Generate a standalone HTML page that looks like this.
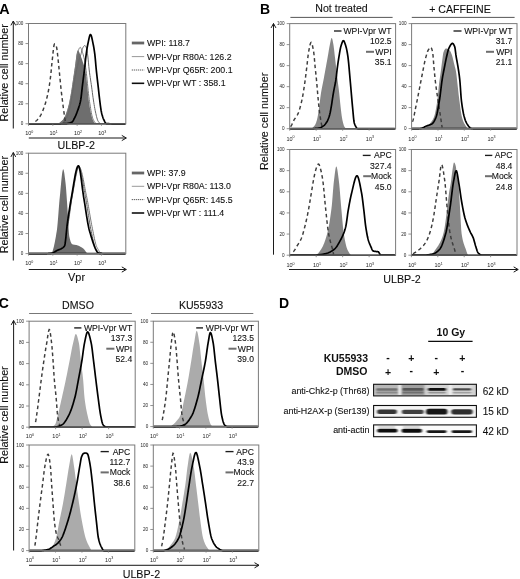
<!DOCTYPE html><html><head><meta charset="utf-8"><title>Figure</title><style>html,body{margin:0;padding:0;background:#fff;overflow:hidden;}svg{display:block;}text{font-family:"Liberation Sans", sans-serif;}</style></head><body>
<svg width="520" height="579" viewBox="0 0 520 579">
<rect x="0" y="0" width="520" height="579" fill="#fff"/>
<defs><filter id="gb" x="0" y="0" width="100%" height="100%" filterUnits="userSpaceOnUse"><feGaussianBlur stdDeviation="0.35"/></filter></defs><g filter="url(#gb)">
<text x="-0.7" y="13.8" font-size="14.4" text-anchor="start" font-weight="bold" fill="#000">A</text>
<path d="M13.3 128.5 V21 M10.9 25.4 L13.3 21 L15.7 25.4" fill="none" stroke="#1a1a1a" stroke-width="1"/>
<path d="M13.3 260.5 V152.5 M10.9 156.9 L13.3 152.5 L15.7 156.9" fill="none" stroke="#1a1a1a" stroke-width="1"/>
<text font-size="10.75" text-anchor="middle" fill="#111" stroke="#111" stroke-width="0.1" transform="translate(7.9 72.8) rotate(-90)">Relative cell number</text>
<text font-size="10.75" text-anchor="middle" fill="#111" stroke="#111" stroke-width="0.1" transform="translate(7.9 204.6) rotate(-90)">Relative cell number</text>
<path d="M58.05 123.6 L58.4 123.5 L58.75 123.31 L59.1 123.05 L59.45 122.75 L59.8 122.45 L60.15 122.16 L60.5 121.89 L60.85 121.61 L61.2 121.33 L61.55 121.03 L61.9 120.73 L62.25 120.4 L62.6 120.06 L62.95 119.69 L63.3 119.29 L63.65 118.85 L64 118.39 L64.35 117.87 L64.7 117.27 L65.05 116.58 L65.4 115.81 L65.75 114.96 L66.1 114.04 L66.45 113.05 L66.8 112 L67.15 110.9 L67.5 109.76 L67.85 108.57 L68.2 107.35 L68.55 106.07 L68.9 104.64 L69.25 103.07 L69.6 101.38 L69.95 99.6 L70.3 97.74 L70.65 95.82 L71 93.86 L71.35 91.84 L71.7 89.66 L72.05 87.36 L72.4 84.98 L72.75 82.57 L73.1 80.18 L73.45 77.82 L73.8 75.47 L74.15 73.11 L74.5 70.7 L74.85 68.24 L75.2 65.7 L75.55 62.79 L75.9 59.54 L76.25 56.44 L76.6 53.96 L76.95 52.44 L77.3 51.23 L77.65 50.4 L78 50.21 L78.35 50.47 L78.7 50.99 L79.05 51.72 L79.4 52.59 L79.75 53.53 L80.1 54.49 L80.45 55.38 L80.8 56.23 L81.15 57.14 L81.5 58.09 L81.85 59.08 L82.2 60.1 L82.55 61.15 L82.9 62.2 L83.25 63.23 L83.6 64.21 L83.95 65.19 L84.3 66.23 L84.65 67.37 L85 68.69 L85.35 70.24 L85.7 72.29 L86.05 74.86 L86.4 77.8 L86.75 80.93 L87.1 84.11 L87.45 87.38 L87.8 91.09 L88.15 94.88 L88.5 98.33 L88.85 101.12 L89.2 103.58 L89.55 105.83 L89.9 107.88 L90.25 109.76 L90.6 111.48 L90.95 113.15 L91.3 114.76 L91.65 116.25 L92 117.57 L92.35 118.67 L92.7 119.52 L93.05 120.28 L93.4 121.02 L93.75 121.7 L94.1 122.31 L94.45 122.83 L94.8 123.23 L95.15 123.49 L95.5 123.6 L95.5 123.8 L58.05 123.8 Z" fill="#6e6e6e"/>
<path d="M60.15 123.58 L60.5 123.47 L60.85 123.27 L61.2 122.98 L61.55 122.63 L61.9 122.21 L62.25 121.73 L62.6 121.21 L62.95 120.66 L63.3 120.07 L63.65 119.47 L64 118.86 L64.35 118.26 L64.7 117.65 L65.05 116.98 L65.4 116.25 L65.75 115.46 L66.1 114.61 L66.45 113.7 L66.8 112.74 L67.15 111.73 L67.5 110.66 L67.85 109.55 L68.2 108.38 L68.55 107.18 L68.9 105.88 L69.25 104.43 L69.6 102.84 L69.95 101.14 L70.3 99.35 L70.65 97.47 L71 95.55 L71.35 93.58 L71.7 91.53 L72.05 89.31 L72.4 86.98 L72.75 84.59 L73.1 82.19 L73.45 79.83 L73.8 77.52 L74.15 75.2 L74.5 72.88 L74.85 70.57 L75.2 68.28 L75.55 66.02 L75.9 63.68 L76.25 61.15 L76.6 58.6 L76.95 56.2 L77.3 54.11 L77.65 52.5 L78 51.42 L78.35 50.44 L78.7 49.53 L79.05 48.74 L79.4 48.08 L79.75 47.61 L80.1 47.34 L80.45 47.35 L80.8 47.79 L81.15 48.58 L81.5 49.56 L81.85 50.59 L82.2 51.55 L82.55 52.56 L82.9 53.65 L83.25 54.84 L83.6 56.13 L83.95 57.53 L84.3 59.06 L84.65 60.76 L85 62.82 L85.35 65.18 L85.7 67.74 L86.05 70.38 L86.4 73.27 L86.75 76.46 L87.1 79.85 L87.45 83.37 L87.8 86.9 L88.15 90.36 L88.5 93.65 L88.85 96.66 L89.2 99.32 L89.55 101.65 L89.9 103.95 L90.25 106.2 L90.6 108.38 L90.95 110.46 L91.3 112.4 L91.65 114.19 L92 115.78 L92.35 117.15 L92.7 118.27 L93.05 119.1 L93.4 119.82 L93.75 120.5 L94.1 121.14 L94.45 121.73 L94.8 122.26 L95.15 122.71 L95.5 123.08 L95.85 123.36 L96.2 123.54 L96.55 123.6" fill="none" stroke="#7a7a7a" stroke-width="1"/>
<path d="M62.25 123.56 L62.6 123.42 L62.95 123.2 L63.3 122.9 L63.65 122.53 L64 122.1 L64.35 121.63 L64.7 121.11 L65.05 120.56 L65.4 120 L65.75 119.42 L66.1 118.83 L66.45 118.17 L66.8 117.41 L67.15 116.57 L67.5 115.64 L67.85 114.62 L68.2 113.54 L68.55 112.39 L68.9 111.17 L69.25 109.9 L69.6 108.57 L69.95 107.2 L70.3 105.7 L70.65 103.95 L71 102.02 L71.35 99.96 L71.7 97.83 L72.05 95.68 L72.4 93.58 L72.75 91.53 L73.1 89.39 L73.45 87.21 L73.8 85.03 L74.15 82.87 L74.5 80.78 L74.85 78.8 L75.2 76.95 L75.55 75.15 L75.9 73.39 L76.25 71.67 L76.6 70.01 L76.95 68.41 L77.3 66.87 L77.65 65.4 L78 64 L78.35 62.68 L78.7 61.43 L79.05 60.24 L79.4 59.1 L79.75 57.98 L80.1 56.88 L80.45 55.77 L80.8 54.65 L81.15 53.49 L81.5 52.21 L81.85 50.89 L82.2 49.63 L82.55 48.52 L82.9 47.68 L83.25 47.09 L83.6 46.54 L83.95 46.07 L84.3 45.71 L84.65 45.52 L85 45.54 L85.35 45.82 L85.7 46.31 L86.05 46.97 L86.4 47.76 L86.75 48.88 L87.1 50.83 L87.45 53.32 L87.8 56 L88.15 59.14 L88.5 62.87 L88.85 66.67 L89.2 70 L89.55 72.77 L89.9 75.3 L90.25 77.68 L90.6 79.96 L90.95 82.25 L91.3 84.6 L91.65 87.09 L92 89.72 L92.35 92.4 L92.7 95.07 L93.05 97.62 L93.4 100 L93.75 102.24 L94.1 104.43 L94.45 106.53 L94.8 108.51 L95.15 110.34 L95.5 112 L95.85 113.56 L96.2 115.11 L96.55 116.59 L96.9 117.95 L97.25 119.16 L97.6 120.17 L97.95 120.92 L98.3 121.48 L98.65 122 L99 122.48 L99.35 122.9 L99.7 123.23 L100.05 123.47 L100.4 123.59" fill="none" stroke="#666" stroke-width="1"/>
<path d="M35.3 121.45 L35.65 121.25 L36 121.01 L36.35 120.74 L36.7 120.44 L37.05 120.1 L37.4 119.73 L37.75 119.33 L38.1 118.91 L38.45 118.47 L38.8 118.01 L39.15 117.53 L39.5 117.03 L39.85 116.52 L40.2 116 L40.55 115.45 L40.9 114.84 L41.25 114.18 L41.6 113.47 L41.95 112.72 L42.3 111.92 L42.65 111.08 L43 110.21 L43.35 109.3 L43.7 108.35 L44.05 107.38 L44.4 106.38 L44.75 105.35 L45.1 104.28 L45.45 103.16 L45.8 101.97 L46.15 100.73 L46.5 99.42 L46.85 98.04 L47.2 96.58 L47.55 95.05 L47.9 93.45 L48.25 91.76 L48.6 89.98 L48.95 88.02 L49.3 85.85 L49.65 83.5 L50 80.98 L50.35 78.31 L50.7 75.5 L51.05 72.27 L51.4 68.59 L51.75 64.83 L52.1 61.38 L52.45 58.28 L52.8 54.95 L53.15 51.61 L53.5 48.57 L53.85 46.09 L54.2 44.48 L54.55 44 L54.9 44.15 L55.25 44.5 L55.6 45.02 L55.95 45.7 L56.3 46.5 L56.65 47.51 L57 49.54 L57.35 52.41 L57.7 55.74 L58.05 59.13 L58.4 62.33 L58.75 65.75 L59.1 69.34 L59.45 72.96 L59.8 76.51 L60.15 80.09 L60.5 83.7 L60.85 87.2 L61.2 90.5 L61.55 93.55 L61.9 96.44 L62.25 99.23 L62.6 102 L62.95 104.76 L63.3 107.48 L63.65 110.11 L64 112.63 L64.35 115.07 L64.7 117.37 L65.05 119.77 L65.4 121.81" fill="none" stroke="#3c3c3c" stroke-width="1.45" stroke-dasharray="3.6,2.9"/>
<path d="M29 123.8 L29.35 123.8 L29.7 123.8 L30.05 123.8 L30.4 123.8 L30.75 123.8 L31.1 123.8 L31.45 123.8 L31.8 123.8 L32.15 123.8 L32.5 123.8 L32.85 123.8 L33.2 123.8 L33.55 123.8 L33.9 123.8 L34.25 123.8 L34.6 123.8 L34.95 123.8 L35.3 123.8 L35.65 123.8 L36 123.8 L36.35 123.8 L36.7 123.8 L37.05 123.8 L37.4 123.8 L37.75 123.8 L38.1 123.8 L38.45 123.8 L38.8 123.8 L39.15 123.8 L39.5 123.8 L39.85 123.8 L40.2 123.8 L40.55 123.8 L40.9 123.8 L41.25 123.8 L41.6 123.8 L41.95 123.8 L42.3 123.8 L42.65 123.8 L43 123.8 L43.35 123.8 L43.7 123.8 L44.05 123.8 L44.4 123.8 L44.75 123.8 L45.1 123.8 L45.45 123.8 L45.8 123.8 L46.15 123.8 L46.5 123.8 L46.85 123.8 L47.2 123.8 L47.55 123.8 L47.9 123.8 L48.25 123.8 L48.6 123.8 L48.95 123.8 L49.3 123.8 L49.65 123.8 L50 123.8 L50.35 123.8 L50.7 123.8 L51.05 123.8 L51.4 123.8 L51.75 123.8 L52.1 123.8 L52.45 123.8 L52.8 123.8 L53.15 123.8 L53.5 123.8 L53.85 123.8 L54.2 123.8 L54.55 123.8 L54.9 123.8 L55.25 123.8 L55.6 123.8 L55.95 123.8 L56.3 123.8 L56.65 123.8 L57 123.8 L57.35 123.8 L57.7 123.8 L58.05 123.8 L58.4 123.8 L58.75 123.8 L59.1 123.8 L59.45 123.79 L59.8 123.79 L60.15 123.78 L60.5 123.78 L60.85 123.77 L61.2 123.77 L61.55 123.76 L61.9 123.75 L62.25 123.74 L62.6 123.73 L62.95 123.72 L63.3 123.71 L63.65 123.7 L64 123.68 L64.35 123.67 L64.7 123.66 L65.05 123.64 L65.4 123.63 L65.75 123.61 L66.1 123.59 L66.45 123.57 L66.8 123.54 L67.15 123.5 L67.5 123.46 L67.85 123.4 L68.2 123.34 L68.55 123.27 L68.9 123.19 L69.25 123.11 L69.6 123.01 L69.95 122.91 L70.3 122.79 L70.65 122.67 L71 122.54 L71.35 122.4 L71.7 122.24 L72.05 122.05 L72.4 121.72 L72.75 121.27 L73.1 120.73 L73.45 120.11 L73.8 119.43 L74.15 118.73 L74.5 118.01 L74.85 117.3 L75.2 116.6 L75.55 115.87 L75.9 115.09 L76.25 114.27 L76.6 113.4 L76.95 112.5 L77.3 111.56 L77.65 110.58 L78 109.61 L78.35 108.64 L78.7 107.63 L79.05 106.56 L79.4 105.41 L79.75 104.15 L80.1 102.76 L80.45 101.22 L80.8 99.46 L81.15 97.06 L81.5 94.1 L81.85 90.85 L82.2 87.59 L82.55 84.6 L82.9 81.82 L83.25 79.1 L83.6 76.39 L83.95 73.65 L84.3 70.83 L84.65 67.84 L85 64.65 L85.35 61.38 L85.7 58.22 L86.05 55.32 L86.4 52.78 L86.75 50.38 L87.1 48.14 L87.45 46.09 L87.8 44.27 L88.15 42.62 L88.5 40.91 L88.85 39.22 L89.2 37.66 L89.55 36.3 L89.9 35.27 L90.25 34.64 L90.6 34.52 L90.95 34.94 L91.3 35.82 L91.65 37.04 L92 38.53 L92.35 40.18 L92.7 41.89 L93.05 43.57 L93.4 45.25 L93.75 47.14 L94.1 49.26 L94.45 51.6 L94.8 54.2 L95.15 57.38 L95.5 61.18 L95.85 65.2 L96.2 69.01 L96.55 72.35 L96.9 75.49 L97.25 78.53 L97.6 81.53 L97.95 84.56 L98.3 87.69 L98.65 90.87 L99 94.04 L99.35 97.11 L99.7 100 L100.05 102.82 L100.4 105.62 L100.75 108.22 L101.1 110.46 L101.45 112.19 L101.8 113.7 L102.15 115.07 L102.5 116.29 L102.85 117.36 L103.2 118.3 L103.55 119.11 L103.9 119.87 L104.25 120.62 L104.6 121.34 L104.95 122 L105.3 122.58 L105.65 123.05 L106 123.39 L106.35 123.57 L106.7 123.61 L107.05 123.63 L107.4 123.65 L107.75 123.66 L108.1 123.68 L108.45 123.69 L108.8 123.71 L109.15 123.72 L109.5 123.73 L109.85 123.74 L110.2 123.75 L110.55 123.76 L110.9 123.77 L111.25 123.77 L111.6 123.78 L111.95 123.78 L112.3 123.79 L112.65 123.79 L113 123.79 L113.35 123.8 L113.7 123.8 L114.05 123.8 L114.4 123.8 L114.75 123.8 L115.1 123.8 L115.45 123.8 L115.8 123.8 L116.15 123.8 L116.5 123.8 L116.85 123.8 L117.2 123.8 L117.55 123.8 L117.9 123.8 L118.25 123.8 L118.6 123.8 L118.95 123.8 L119.3 123.8 L119.65 123.8 L120 123.8 L120.35 123.8 L120.7 123.8 L121.05 123.8 L121.4 123.8 L121.75 123.8 L122.1 123.8 L122.45 123.8 L122.8 123.8 L123.15 123.8 L123.5 123.8 L123.85 123.8 L124.2 123.8 L124.55 123.8 L124.9 123.8 L125.25 123.8" fill="none" stroke="#000" stroke-width="1.7" stroke-linejoin="round"/>
<line x1="28.5" y1="123.8" x2="125.8" y2="123.8" stroke="#000" stroke-width="1.6"/>
<line x1="25.5" y1="23.5" x2="28.5" y2="23.5" stroke="#777" stroke-width="0.8"/>
<text x="23.4" y="25.15" font-size="4.6" text-anchor="end" fill="#222">100</text>
<line x1="25.5" y1="43.56" x2="28.5" y2="43.56" stroke="#777" stroke-width="0.8"/>
<text x="23.4" y="45.21" font-size="4.6" text-anchor="end" fill="#222">80</text>
<line x1="25.5" y1="63.62" x2="28.5" y2="63.62" stroke="#777" stroke-width="0.8"/>
<text x="23.4" y="65.27" font-size="4.6" text-anchor="end" fill="#222">60</text>
<line x1="25.5" y1="83.68" x2="28.5" y2="83.68" stroke="#777" stroke-width="0.8"/>
<text x="23.4" y="85.33" font-size="4.6" text-anchor="end" fill="#222">40</text>
<line x1="25.5" y1="103.74" x2="28.5" y2="103.74" stroke="#777" stroke-width="0.8"/>
<text x="23.4" y="105.39" font-size="4.6" text-anchor="end" fill="#222">20</text>
<line x1="25.5" y1="123.8" x2="28.5" y2="123.8" stroke="#777" stroke-width="0.8"/>
<text x="23.4" y="125.45" font-size="4.6" text-anchor="end" fill="#222">0</text>
<line x1="28.5" y1="123.8" x2="28.5" y2="125.8" stroke="#777" stroke-width="0.8"/>
<text x="29.3" y="135.2" font-size="5.5" fill="#222" text-anchor="middle">10<tspan font-size="3.6" dy="-2.4">0</tspan></text>
<line x1="52.83" y1="123.8" x2="52.83" y2="125.8" stroke="#777" stroke-width="0.8"/>
<text x="53.62" y="135.2" font-size="5.5" fill="#222" text-anchor="middle">10<tspan font-size="3.6" dy="-2.4">1</tspan></text>
<line x1="77.15" y1="123.8" x2="77.15" y2="125.8" stroke="#777" stroke-width="0.8"/>
<text x="77.95" y="135.2" font-size="5.5" fill="#222" text-anchor="middle">10<tspan font-size="3.6" dy="-2.4">2</tspan></text>
<line x1="101.47" y1="123.8" x2="101.47" y2="125.8" stroke="#777" stroke-width="0.8"/>
<text x="102.27" y="135.2" font-size="5.5" fill="#222" text-anchor="middle">10<tspan font-size="3.6" dy="-2.4">3</tspan></text>
<rect x="28.5" y="23.5" width="97.3" height="100.3" fill="none" stroke="#7a7a7a" stroke-width="1"/>
<path d="M28.8 138 H126.3 M121.8 135.4 L126.3 138 L121.8 140.6" fill="none" stroke="#1a1a1a" stroke-width="1"/>
<text x="76.3" y="148.8" font-size="10.7" text-anchor="middle" fill="#111" stroke="#111" stroke-width="0.1">ULBP-2</text>
<line x1="131.8" y1="43" x2="144.2" y2="43" stroke="#666" stroke-width="2.8"/>
<text x="147" y="46.1" font-size="8.8" text-anchor="start" fill="#111" stroke="#111" stroke-width="0.1">WPI: 118.7</text>
<line x1="131.8" y1="56.6" x2="144.2" y2="56.6" stroke="#999" stroke-width="1"/>
<text x="147" y="59.7" font-size="8.8" text-anchor="start" fill="#111" stroke="#111" stroke-width="0.1">WPI-Vpr R80A: 126.2</text>
<line x1="131.8" y1="70" x2="144.2" y2="70" stroke="#333" stroke-width="1" stroke-dasharray="1,1"/>
<text x="147" y="73.1" font-size="8.8" text-anchor="start" fill="#111" stroke="#111" stroke-width="0.1">WPI-Vpr Q65R: 200.1</text>
<line x1="131.8" y1="83.3" x2="144.2" y2="83.3" stroke="#111" stroke-width="1.6"/>
<text x="147" y="86.4" font-size="8.8" text-anchor="start" fill="#111" stroke="#111" stroke-width="0.1">WPI-Vpr WT : 358.1</text>
<path d="M50 253.37 L50.35 253.35 L50.7 253.32 L51.05 253.29 L51.4 253.12 L51.75 252.74 L52.1 252.16 L52.45 251.38 L52.8 250.43 L53.15 249.31 L53.5 248.05 L53.85 246.63 L54.2 245.1 L54.55 243.44 L54.9 241.68 L55.25 239.82 L55.6 237.89 L55.95 235.88 L56.3 233.82 L56.65 231.71 L57 229.42 L57.35 226.31 L57.7 222.51 L58.05 218.23 L58.4 213.69 L58.75 209.09 L59.1 204.64 L59.45 200.57 L59.8 197.03 L60.15 193.42 L60.5 189.62 L60.85 185.75 L61.2 181.98 L61.55 178.43 L61.9 175.26 L62.25 172.61 L62.6 170.63 L62.95 169.46 L63.3 169.24 L63.65 169.97 L64 171.47 L64.35 173.59 L64.7 176.14 L65.05 178.96 L65.4 181.87 L65.75 185.03 L66.1 189.09 L66.45 193.81 L66.8 198.9 L67.15 204.09 L67.5 209.17 L67.85 215.09 L68.2 221.57 L68.55 227.8 L68.9 232.96 L69.25 236.23 L69.6 237.86 L69.95 239.3 L70.3 240.56 L70.65 241.64 L71 242.55 L71.35 243.26 L71.7 243.79 L72.05 244.12 L72.4 244.28 L72.75 244.4 L73.1 244.5 L73.45 244.58 L73.8 244.65 L74.15 244.71 L74.5 244.76 L74.85 244.8 L75.2 244.85 L75.55 244.9 L75.9 244.95 L76.25 245.02 L76.6 245.09 L76.95 245.19 L77.3 245.29 L77.65 245.41 L78 245.54 L78.35 245.68 L78.7 245.83 L79.05 245.99 L79.4 246.16 L79.75 246.34 L80.1 246.53 L80.45 246.72 L80.8 246.93 L81.15 247.14 L81.5 247.36 L81.85 247.59 L82.2 247.83 L82.55 248.07 L82.9 248.32 L83.25 248.58 L83.6 248.85 L83.95 249.13 L84.3 249.49 L84.65 249.93 L85 250.43 L85.35 250.95 L85.7 251.48 L86.05 251.98 L86.4 252.44 L86.75 252.82 L87.1 253.11 L87.45 253.27 L87.8 253.32 L88.15 253.34 L88.5 253.37 L88.5 253.6 L50 253.6 Z" fill="#6e6e6e"/>
<path d="M50 253.36 L50.35 253.34 L50.7 253.32 L51.05 253.3 L51.4 253.27 L51.75 253.23 L52.1 253.19 L52.45 253.14 L52.8 253.08 L53.15 253.01 L53.5 252.94 L53.85 252.85 L54.2 252.76 L54.55 252.65 L54.9 252.54 L55.25 252.42 L55.6 252.29 L55.95 252.15 L56.3 251.99 L56.65 251.83 L57 251.66 L57.35 251.47 L57.7 251.28 L58.05 251.07 L58.4 250.85 L58.75 250.62 L59.1 250.38 L59.45 250.13 L59.8 249.86 L60.15 249.58 L60.5 249.29 L60.85 248.99 L61.2 248.67 L61.55 248.34 L61.9 248 L62.25 247.64 L62.6 247.27 L62.95 246.88 L63.3 246.48 L63.65 246.07 L64 245.64 L64.35 245.19 L64.7 244.65 L65.05 243.65 L65.4 242.21 L65.75 240.41 L66.1 238.31 L66.45 236 L66.8 233.53 L67.15 230.99 L67.5 228.45 L67.85 225.97 L68.2 223.63 L68.55 221.41 L68.9 219.06 L69.25 216.62 L69.6 214.12 L69.95 211.58 L70.3 209.03 L70.65 206.51 L71 204.06 L71.35 201.7 L71.7 199.46 L72.05 197.37 L72.4 195.47 L72.75 193.57 L73.1 191.61 L73.45 189.63 L73.8 187.62 L74.15 185.62 L74.5 183.64 L74.85 181.68 L75.2 179.78 L75.55 177.95 L75.9 176.2 L76.25 174.55 L76.6 173.02 L76.95 171.62 L77.3 170.38 L77.65 169.3 L78 168.41 L78.35 167.73 L78.7 167.26 L79.05 167.02 L79.4 167.04 L79.75 167.29 L80.1 167.76 L80.45 168.44 L80.8 169.3 L81.15 170.33 L81.5 171.52 L81.85 172.84 L82.2 174.29 L82.55 175.85 L82.9 177.5 L83.25 179.22 L83.6 181.01 L83.95 182.84 L84.3 184.69 L84.65 186.56 L85 188.43 L85.35 190.27 L85.7 192.08 L86.05 193.84 L86.4 195.53 L86.75 197.19 L87.1 198.93 L87.45 200.76 L87.8 202.66 L88.15 204.62 L88.5 206.63 L88.85 208.67 L89.2 210.74 L89.55 212.81 L89.9 214.88 L90.25 216.93 L90.6 218.96 L90.95 220.95 L91.3 222.88 L91.65 224.75 L92 226.54 L92.35 228.24 L92.7 229.94 L93.05 231.69 L93.4 233.45 L93.75 235.21 L94.1 236.95 L94.45 238.63 L94.8 240.25 L95.15 241.77 L95.5 243.18 L95.85 244.44 L96.2 245.55 L96.55 246.47 L96.9 247.19 L97.25 247.85 L97.6 248.49 L97.95 249.1 L98.3 249.7 L98.65 250.26 L99 250.78 L99.35 251.27 L99.7 251.72 L100.05 252.12 L100.4 252.47 L100.75 252.76 L101.1 253 L101.45 253.17 L101.8 253.27 L102.15 253.31 L102.5 253.34 L102.85 253.36" fill="none" stroke="#7a7a7a" stroke-width="1"/>
<path d="M50 253.36 L50.35 253.34 L50.7 253.32 L51.05 253.3 L51.4 253.27 L51.75 253.23 L52.1 253.19 L52.45 253.14 L52.8 253.09 L53.15 253.02 L53.5 252.95 L53.85 252.86 L54.2 252.77 L54.55 252.67 L54.9 252.56 L55.25 252.44 L55.6 252.31 L55.95 252.17 L56.3 252.03 L56.65 251.87 L57 251.7 L57.35 251.51 L57.7 251.32 L58.05 251.12 L58.4 250.9 L58.75 250.67 L59.1 250.43 L59.45 250.18 L59.8 249.91 L60.15 249.64 L60.5 249.34 L60.85 249.04 L61.2 248.72 L61.55 248.39 L61.9 248.04 L62.25 247.68 L62.6 247.3 L62.95 246.91 L63.3 246.51 L63.65 246.09 L64 245.65 L64.35 245.2 L64.7 244.62 L65.05 243.48 L65.4 241.82 L65.75 239.73 L66.1 237.32 L66.45 234.69 L66.8 231.93 L67.15 229.17 L67.5 226.48 L67.85 223.99 L68.2 221.71 L68.55 219.4 L68.9 217.04 L69.25 214.64 L69.6 212.24 L69.95 209.84 L70.3 207.47 L70.65 205.15 L71 202.9 L71.35 200.73 L71.7 198.67 L72.05 196.73 L72.4 194.78 L72.75 192.77 L73.1 190.7 L73.45 188.59 L73.8 186.47 L74.15 184.36 L74.5 182.27 L74.85 180.23 L75.2 178.26 L75.55 176.37 L75.9 174.58 L76.25 172.93 L76.6 171.41 L76.95 170.07 L77.3 168.91 L77.65 167.95 L78 167.22 L78.35 166.73 L78.7 166.51 L79.05 166.58 L79.4 166.95 L79.75 167.59 L80.1 168.49 L80.45 169.62 L80.8 170.96 L81.15 172.48 L81.5 174.15 L81.85 175.96 L82.2 177.89 L82.55 179.89 L82.9 181.97 L83.25 184.08 L83.6 186.21 L83.95 188.33 L84.3 190.42 L84.65 192.45 L85 194.41 L85.35 196.26 L85.7 198.14 L86.05 200.13 L86.4 202.2 L86.75 204.34 L87.1 206.54 L87.45 208.77 L87.8 211.03 L88.15 213.3 L88.5 215.55 L88.85 217.79 L89.2 219.98 L89.55 222.11 L89.9 224.17 L90.25 226.14 L90.6 228.01 L90.95 229.76 L91.3 231.44 L91.65 233.14 L92 234.85 L92.35 236.55 L92.7 238.22 L93.05 239.83 L93.4 241.37 L93.75 242.82 L94.1 244.16 L94.45 245.36 L94.8 246.42 L95.15 247.31 L95.5 248 L95.85 248.59 L96.2 249.15 L96.55 249.7 L96.9 250.22 L97.25 250.71 L97.6 251.18 L97.95 251.6 L98.3 251.99 L98.65 252.33 L99 252.63 L99.35 252.88 L99.7 253.07 L100.05 253.21 L100.4 253.29 L100.75 253.32 L101.1 253.34 L101.45 253.37" fill="none" stroke="#666" stroke-width="1"/>
<path d="M29 253.6 L29.35 253.6 L29.7 253.6 L30.05 253.6 L30.4 253.6 L30.75 253.6 L31.1 253.6 L31.45 253.6 L31.8 253.6 L32.15 253.6 L32.5 253.6 L32.85 253.6 L33.2 253.6 L33.55 253.6 L33.9 253.6 L34.25 253.6 L34.6 253.6 L34.95 253.6 L35.3 253.6 L35.65 253.6 L36 253.6 L36.35 253.6 L36.7 253.6 L37.05 253.6 L37.4 253.6 L37.75 253.6 L38.1 253.6 L38.45 253.6 L38.8 253.6 L39.15 253.6 L39.5 253.6 L39.85 253.6 L40.2 253.6 L40.55 253.6 L40.9 253.6 L41.25 253.6 L41.6 253.6 L41.95 253.6 L42.3 253.6 L42.65 253.6 L43 253.6 L43.35 253.6 L43.7 253.6 L44.05 253.59 L44.4 253.59 L44.75 253.58 L45.1 253.58 L45.45 253.57 L45.8 253.56 L46.15 253.55 L46.5 253.54 L46.85 253.53 L47.2 253.51 L47.55 253.5 L47.9 253.48 L48.25 253.47 L48.6 253.45 L48.95 253.43 L49.3 253.41 L49.65 253.39 L50 253.37 L50.35 253.35 L50.7 253.32 L51.05 253.3 L51.4 253.25 L51.75 253.18 L52.1 253.09 L52.45 252.97 L52.8 252.83 L53.15 252.67 L53.5 252.5 L53.85 252.32 L54.2 252.13 L54.55 251.92 L54.9 251.72 L55.25 251.51 L55.6 251.3 L55.95 251.09 L56.3 250.89 L56.65 250.69 L57 250.5 L57.35 250.33 L57.7 250.16 L58.05 250.02 L58.4 249.88 L58.75 249.74 L59.1 249.61 L59.45 249.48 L59.8 249.35 L60.15 249.21 L60.5 249.07 L60.85 248.91 L61.2 248.74 L61.55 248.56 L61.9 248.36 L62.25 248.13 L62.6 247.89 L62.95 247.61 L63.3 247.31 L63.65 246.97 L64 246.6 L64.35 246.19 L64.7 245.56 L65.05 243.97 L65.4 241.56 L65.75 238.53 L66.1 235.13 L66.45 231.58 L66.8 228.11 L67.15 224.95 L67.5 222.29 L67.85 219.82 L68.2 217.38 L68.55 214.98 L68.9 212.62 L69.25 210.31 L69.6 208.05 L69.95 205.85 L70.3 203.72 L70.65 201.65 L71 199.65 L71.35 197.73 L71.7 195.78 L72.05 193.76 L72.4 191.68 L72.75 189.56 L73.1 187.42 L73.45 185.29 L73.8 183.17 L74.15 181.08 L74.5 179.06 L74.85 177.11 L75.2 175.25 L75.55 173.5 L75.9 171.88 L76.25 170.42 L76.6 169.12 L76.95 168.01 L77.3 167.1 L77.65 166.42 L78 165.98 L78.35 165.8 L78.7 165.99 L79.05 166.68 L79.4 167.82 L79.75 169.35 L80.1 171.22 L80.45 173.37 L80.8 175.76 L81.15 178.32 L81.5 181.01 L81.85 183.77 L82.2 186.55 L82.55 189.3 L82.9 191.95 L83.25 194.47 L83.6 196.78 L83.95 198.89 L84.3 201.01 L84.65 203.21 L85 205.45 L85.35 207.72 L85.7 210 L86.05 212.28 L86.4 214.54 L86.75 216.76 L87.1 218.92 L87.45 221 L87.8 223 L88.15 224.88 L88.5 226.64 L88.85 228.25 L89.2 229.7 L89.55 230.97 L89.9 232.17 L90.25 233.37 L90.6 234.56 L90.95 235.75 L91.3 236.92 L91.65 238.07 L92 239.21 L92.35 240.32 L92.7 241.41 L93.05 242.47 L93.4 243.51 L93.75 244.5 L94.1 245.46 L94.45 246.38 L94.8 247.26 L95.15 248.09 L95.5 248.87 L95.85 249.6 L96.2 250.27 L96.55 250.89 L96.9 251.44 L97.25 251.92 L97.6 252.34 L97.95 252.69 L98.3 252.96 L98.65 253.16 L99 253.27 L99.35 253.31 L99.7 253.33 L100.05 253.36 L100.4 253.38 L100.75 253.4 L101.1 253.42 L101.45 253.44 L101.8 253.46 L102.15 253.48 L102.5 253.49 L102.85 253.51 L103.2 253.52 L103.55 253.53 L103.9 253.55 L104.25 253.56 L104.6 253.57 L104.95 253.57 L105.3 253.58 L105.65 253.59 L106 253.59 L106.35 253.6 L106.7 253.6 L107.05 253.6 L107.4 253.6 L107.75 253.6 L108.1 253.6 L108.45 253.6 L108.8 253.6 L109.15 253.6 L109.5 253.6 L109.85 253.6 L110.2 253.6 L110.55 253.6 L110.9 253.6 L111.25 253.6 L111.6 253.6 L111.95 253.6 L112.3 253.6 L112.65 253.6 L113 253.6 L113.35 253.6 L113.7 253.6 L114.05 253.6 L114.4 253.6 L114.75 253.6 L115.1 253.6 L115.45 253.6 L115.8 253.6 L116.15 253.6 L116.5 253.6 L116.85 253.6 L117.2 253.6 L117.55 253.6 L117.9 253.6 L118.25 253.6 L118.6 253.6 L118.95 253.6 L119.3 253.6 L119.65 253.6 L120 253.6 L120.35 253.6 L120.7 253.6 L121.05 253.6 L121.4 253.6 L121.75 253.6 L122.1 253.6 L122.45 253.6 L122.8 253.6 L123.15 253.6 L123.5 253.6 L123.85 253.6 L124.2 253.6 L124.55 253.6 L124.9 253.6 L125.25 253.6" fill="none" stroke="#000" stroke-width="1.7" stroke-linejoin="round"/>
<line x1="28.5" y1="253.6" x2="125.8" y2="253.6" stroke="#000" stroke-width="1.6"/>
<line x1="25.5" y1="153.2" x2="28.5" y2="153.2" stroke="#777" stroke-width="0.8"/>
<text x="23.4" y="154.85" font-size="4.6" text-anchor="end" fill="#222">100</text>
<line x1="25.5" y1="173.28" x2="28.5" y2="173.28" stroke="#777" stroke-width="0.8"/>
<text x="23.4" y="174.93" font-size="4.6" text-anchor="end" fill="#222">80</text>
<line x1="25.5" y1="193.36" x2="28.5" y2="193.36" stroke="#777" stroke-width="0.8"/>
<text x="23.4" y="195.01" font-size="4.6" text-anchor="end" fill="#222">60</text>
<line x1="25.5" y1="213.44" x2="28.5" y2="213.44" stroke="#777" stroke-width="0.8"/>
<text x="23.4" y="215.09" font-size="4.6" text-anchor="end" fill="#222">40</text>
<line x1="25.5" y1="233.52" x2="28.5" y2="233.52" stroke="#777" stroke-width="0.8"/>
<text x="23.4" y="235.17" font-size="4.6" text-anchor="end" fill="#222">20</text>
<line x1="25.5" y1="253.6" x2="28.5" y2="253.6" stroke="#777" stroke-width="0.8"/>
<text x="23.4" y="255.25" font-size="4.6" text-anchor="end" fill="#222">0</text>
<line x1="28.5" y1="253.6" x2="28.5" y2="255.6" stroke="#777" stroke-width="0.8"/>
<text x="29.3" y="265" font-size="5.5" fill="#222" text-anchor="middle">10<tspan font-size="3.6" dy="-2.4">0</tspan></text>
<line x1="52.83" y1="253.6" x2="52.83" y2="255.6" stroke="#777" stroke-width="0.8"/>
<text x="53.62" y="265" font-size="5.5" fill="#222" text-anchor="middle">10<tspan font-size="3.6" dy="-2.4">1</tspan></text>
<line x1="77.15" y1="253.6" x2="77.15" y2="255.6" stroke="#777" stroke-width="0.8"/>
<text x="77.95" y="265" font-size="5.5" fill="#222" text-anchor="middle">10<tspan font-size="3.6" dy="-2.4">2</tspan></text>
<line x1="101.47" y1="253.6" x2="101.47" y2="255.6" stroke="#777" stroke-width="0.8"/>
<text x="102.27" y="265" font-size="5.5" fill="#222" text-anchor="middle">10<tspan font-size="3.6" dy="-2.4">3</tspan></text>
<rect x="28.5" y="153.2" width="97.3" height="100.4" fill="none" stroke="#7a7a7a" stroke-width="1"/>
<path d="M28.8 269.5 H126.3 M121.8 266.9 L126.3 269.5 L121.8 272.1" fill="none" stroke="#1a1a1a" stroke-width="1"/>
<text x="76.6" y="281.4" font-size="10.9" text-anchor="middle" fill="#111" stroke="#111" stroke-width="0.1">Vpr</text>
<line x1="131.8" y1="173" x2="144.2" y2="173" stroke="#666" stroke-width="2.8"/>
<text x="147" y="176.1" font-size="8.8" text-anchor="start" fill="#111" stroke="#111" stroke-width="0.1">WPI: 37.9</text>
<line x1="131.8" y1="186.3" x2="144.2" y2="186.3" stroke="#999" stroke-width="1"/>
<text x="147" y="189.4" font-size="8.8" text-anchor="start" fill="#111" stroke="#111" stroke-width="0.1">WPI-Vpr R80A: 113.0</text>
<line x1="131.8" y1="199.6" x2="144.2" y2="199.6" stroke="#333" stroke-width="1" stroke-dasharray="1,1"/>
<text x="147" y="202.7" font-size="8.8" text-anchor="start" fill="#111" stroke="#111" stroke-width="0.1">WPI-Vpr Q65R: 145.5</text>
<line x1="131.8" y1="213" x2="144.2" y2="213" stroke="#111" stroke-width="1.6"/>
<text x="147" y="216.1" font-size="8.8" text-anchor="start" fill="#111" stroke="#111" stroke-width="0.1">WPI-Vpr WT : 111.4</text>
<text x="260" y="14" font-size="14" text-anchor="start" font-weight="bold" fill="#000">B</text>
<text x="341.5" y="12" font-size="10.6" text-anchor="middle" fill="#111" stroke="#111" stroke-width="0.1">Not treated</text>
<text x="460" y="12.9" font-size="10.6" text-anchor="middle" fill="#111" stroke="#111" stroke-width="0.1">+ CAFFEINE</text>
<line x1="290.4" y1="17.4" x2="392.6" y2="17.4" stroke="#555" stroke-width="1"/>
<line x1="411.8" y1="17.4" x2="514.6" y2="17.4" stroke="#555" stroke-width="1"/>
<path d="M273.5 254.7 V23.5 M271.1 27.9 L273.5 23.5 L275.9 27.9" fill="none" stroke="#1a1a1a" stroke-width="1"/>
<text font-size="10.75" text-anchor="middle" fill="#111" stroke="#111" stroke-width="0.1" transform="translate(267.8 121.3) rotate(-90)">Relative cell number</text>
<path d="M311.2 128.47 L311.55 128.34 L311.9 128.15 L312.25 127.92 L312.6 127.66 L312.95 127.35 L313.3 127.01 L313.65 126.65 L314 126.25 L314.35 125.83 L314.7 125.39 L315.05 124.93 L315.4 124.34 L315.75 123.57 L316.1 122.64 L316.45 121.57 L316.8 120.38 L317.15 119.09 L317.5 117.58 L317.85 115.69 L318.2 113.52 L318.55 111.15 L318.9 108.69 L319.25 106.24 L319.6 103.72 L319.95 100.95 L320.3 98.11 L320.65 95.4 L321 93 L321.35 90.91 L321.7 89 L322.05 87.2 L322.4 85.48 L322.75 83.78 L323.1 82.06 L323.45 80.27 L323.8 78.39 L324.15 76.5 L324.5 74.59 L324.85 72.67 L325.2 70.75 L325.55 68.82 L325.9 66.91 L326.25 64.99 L326.6 63.08 L326.95 61.17 L327.3 59.24 L327.65 57.3 L328 55.33 L328.35 53.25 L328.7 51.11 L329.05 49 L329.4 47.01 L329.75 45.23 L330.1 43.55 L330.45 41.76 L330.8 40.09 L331.15 38.74 L331.5 37.94 L331.85 37.89 L332.2 38.68 L332.55 40.08 L332.9 41.86 L333.25 43.74 L333.6 45.84 L333.95 48.54 L334.3 51.56 L334.65 54.63 L335 57.58 L335.35 60.58 L335.7 63.64 L336.05 66.7 L336.4 69.73 L336.75 72.75 L337.1 75.76 L337.45 78.74 L337.8 81.64 L338.15 84.42 L338.5 87.16 L338.85 89.99 L339.2 93 L339.55 96.38 L339.9 100.02 L340.25 103.58 L340.6 106.77 L340.95 109.83 L341.3 112.79 L341.65 115.51 L342 117.82 L342.35 119.63 L342.7 121.27 L343.05 122.78 L343.4 124.12 L343.75 125.26 L344.1 126.16 L344.45 126.77 L344.8 127.25 L345.15 127.69 L345.5 128.07 L345.85 128.36 L346.2 128.54 L346.2 128.7 L311.2 128.7 Z" fill="#878787"/>
<path d="M290.55 126.64 L290.9 126.26 L291.25 125.74 L291.6 125.1 L291.95 124.38 L292.3 123.61 L292.65 122.81 L293 122.01 L293.35 121.25 L293.7 120.56 L294.05 119.95 L294.4 119.39 L294.75 118.87 L295.1 118.38 L295.45 117.89 L295.8 117.41 L296.15 116.91 L296.5 116.4 L296.85 115.85 L297.2 115.26 L297.55 114.62 L297.9 113.92 L298.25 113.13 L298.6 112.25 L298.95 111.27 L299.3 110.21 L299.65 109.07 L300 107.85 L300.35 106.56 L300.7 105.21 L301.05 103.8 L301.4 102.33 L301.75 100.82 L302.1 99.22 L302.45 97.45 L302.8 95.55 L303.15 93.52 L303.5 91.38 L303.85 89.16 L304.2 86.87 L304.55 84.54 L304.9 82.1 L305.25 79.48 L305.6 76.73 L305.95 73.9 L306.3 71.04 L306.65 68.2 L307 65.27 L307.35 62.1 L307.7 58.9 L308.05 55.87 L308.4 53.22 L308.75 51.14 L309.1 49.29 L309.45 47.47 L309.8 45.78 L310.15 44.33 L310.5 43.22 L310.85 42.55 L311.2 42.42 L311.55 42.8 L311.9 43.61 L312.25 44.78 L312.6 46.24 L312.95 47.93 L313.3 49.76 L313.65 51.69 L314 54.47 L314.35 58.17 L314.7 62.28 L315.05 66.26 L315.4 69.71 L315.75 72.91 L316.1 76.1 L316.45 79.49 L316.8 83.27 L317.15 87.39 L317.5 91.6 L317.85 95.66 L318.2 99.44 L318.55 103.14 L318.9 106.66 L319.25 109.79 L319.6 112.55 L319.95 115.11 L320.3 117.47 L320.65 119.61 L321 121.5 L321.35 123.36 L321.7 125.22 L322.05 126.8 L322.4 127.8" fill="none" stroke="#3c3c3c" stroke-width="1.45" stroke-dasharray="3.6,2.9"/>
<path d="M290.2 128.7 L290.55 128.7 L290.9 128.7 L291.25 128.7 L291.6 128.7 L291.95 128.7 L292.3 128.7 L292.65 128.7 L293 128.7 L293.35 128.7 L293.7 128.7 L294.05 128.7 L294.4 128.7 L294.75 128.7 L295.1 128.7 L295.45 128.7 L295.8 128.7 L296.15 128.7 L296.5 128.7 L296.85 128.7 L297.2 128.7 L297.55 128.7 L297.9 128.7 L298.25 128.7 L298.6 128.7 L298.95 128.7 L299.3 128.7 L299.65 128.7 L300 128.7 L300.35 128.7 L300.7 128.7 L301.05 128.7 L301.4 128.7 L301.75 128.7 L302.1 128.7 L302.45 128.7 L302.8 128.7 L303.15 128.7 L303.5 128.7 L303.85 128.7 L304.2 128.7 L304.55 128.7 L304.9 128.7 L305.25 128.7 L305.6 128.7 L305.95 128.69 L306.3 128.69 L306.65 128.69 L307 128.68 L307.35 128.68 L307.7 128.68 L308.05 128.67 L308.4 128.67 L308.75 128.66 L309.1 128.66 L309.45 128.65 L309.8 128.64 L310.15 128.64 L310.5 128.63 L310.85 128.62 L311.2 128.62 L311.55 128.61 L311.9 128.6 L312.25 128.59 L312.6 128.58 L312.95 128.57 L313.3 128.56 L313.65 128.54 L314 128.53 L314.35 128.51 L314.7 128.49 L315.05 128.46 L315.4 128.44 L315.75 128.41 L316.1 128.38 L316.45 128.35 L316.8 128.31 L317.15 128.28 L317.5 128.24 L317.85 128.2 L318.2 128.15 L318.55 128.11 L318.9 128.06 L319.25 128.01 L319.6 127.94 L319.95 127.85 L320.3 127.74 L320.65 127.6 L321 127.44 L321.35 127.27 L321.7 127.07 L322.05 126.86 L322.4 126.64 L322.75 126.4 L323.1 126.16 L323.45 125.91 L323.8 125.65 L324.15 125.35 L324.5 125.02 L324.85 124.66 L325.2 124.26 L325.55 123.83 L325.9 123.36 L326.25 122.86 L326.6 122.32 L326.95 121.75 L327.3 121.14 L327.65 120.45 L328 119.66 L328.35 118.79 L328.7 117.83 L329.05 116.78 L329.4 115.64 L329.75 114.42 L330.1 112.96 L330.45 111.25 L330.8 109.35 L331.15 107.35 L331.5 105.3 L331.85 103.04 L332.2 100.62 L332.55 98.25 L332.9 96.07 L333.25 93.97 L333.6 91.94 L333.95 89.97 L334.3 88.07 L334.65 86.36 L335 84.73 L335.35 83.04 L335.7 81.11 L336.05 78.74 L336.4 75.81 L336.75 72.65 L337.1 69.58 L337.45 66.89 L337.8 64.36 L338.15 61.93 L338.5 59.61 L338.85 57.4 L339.2 55.31 L339.55 53.21 L339.9 51.15 L340.25 49.22 L340.6 47.53 L340.95 46.16 L341.3 45.05 L341.65 43.96 L342 42.93 L342.35 42.04 L342.7 41.33 L343.05 40.87 L343.4 40.7 L343.75 40.87 L344.1 41.34 L344.45 42.06 L344.8 42.95 L345.15 43.98 L345.5 45.06 L345.85 46.16 L346.2 47.4 L346.55 48.88 L346.9 50.58 L347.25 52.5 L347.6 54.61 L347.95 56.95 L348.3 59.83 L348.65 63.21 L349 66.94 L349.35 70.9 L349.7 74.94 L350.05 78.94 L350.4 82.79 L350.75 86.71 L351.1 90.77 L351.45 94.87 L351.8 98.92 L352.15 102.86 L352.5 106.59 L352.85 110.24 L353.2 114.16 L353.55 117.91 L353.9 120.99 L354.25 122.94 L354.6 123.91 L354.95 124.79 L355.3 125.58 L355.65 126.28 L356 126.9 L356.35 127.42 L356.7 127.86 L357.05 128.19 L357.4 128.43 L357.75 128.57 L358.1 128.6 L358.45 128.61 L358.8 128.62 L359.15 128.63 L359.5 128.64 L359.85 128.64 L360.2 128.65 L360.55 128.66 L360.9 128.66 L361.25 128.67 L361.6 128.67 L361.95 128.68 L362.3 128.68 L362.65 128.69 L363 128.69 L363.35 128.69 L363.7 128.69 L364.05 128.7 L364.4 128.7 L364.75 128.7 L365.1 128.7 L365.45 128.7 L365.8 128.7 L366.15 128.7 L366.5 128.7 L366.85 128.7 L367.2 128.7 L367.55 128.7 L367.9 128.7 L368.25 128.7 L368.6 128.7 L368.95 128.7 L369.3 128.7 L369.65 128.7 L370 128.7 L370.35 128.7 L370.7 128.7 L371.05 128.7 L371.4 128.7 L371.75 128.7 L372.1 128.7 L372.45 128.7 L372.8 128.7 L373.15 128.7 L373.5 128.7 L373.85 128.7 L374.2 128.7 L374.55 128.7 L374.9 128.7 L375.25 128.7 L375.6 128.7 L375.95 128.7 L376.3 128.7 L376.65 128.7 L377 128.7 L377.35 128.7 L377.7 128.7 L378.05 128.7 L378.4 128.7 L378.75 128.7 L379.1 128.7 L379.45 128.7 L379.8 128.7 L380.15 128.7 L380.5 128.7 L380.85 128.7 L381.2 128.7 L381.55 128.7 L381.9 128.7 L382.25 128.7 L382.6 128.7 L382.95 128.7 L383.3 128.7 L383.65 128.7 L384 128.7 L384.35 128.7 L384.7 128.7 L385.05 128.7 L385.4 128.7 L385.75 128.7 L386.1 128.7 L386.45 128.7 L386.8 128.7 L387.15 128.7 L387.5 128.7 L387.85 128.7 L388.2 128.7 L388.55 128.7 L388.9 128.7 L389.25 128.7 L389.6 128.7 L389.95 128.7 L390.3 128.7 L390.65 128.7 L391 128.7 L391.35 128.7 L391.7 128.7 L392.05 128.7 L392.4 128.7 L392.75 128.7 L393.1 128.7 L393.45 128.7 L393.8 128.7 L394.15 128.7 L394.5 128.7 L394.85 128.7" fill="none" stroke="#000" stroke-width="1.7" stroke-linejoin="round"/>
<line x1="289.7" y1="128.7" x2="395.6" y2="128.7" stroke="#000" stroke-width="1.6"/>
<line x1="286.7" y1="23.6" x2="289.7" y2="23.6" stroke="#777" stroke-width="0.8"/>
<text x="284.6" y="25.25" font-size="4.6" text-anchor="end" fill="#222">100</text>
<line x1="286.7" y1="44.62" x2="289.7" y2="44.62" stroke="#777" stroke-width="0.8"/>
<text x="284.6" y="46.27" font-size="4.6" text-anchor="end" fill="#222">80</text>
<line x1="286.7" y1="65.64" x2="289.7" y2="65.64" stroke="#777" stroke-width="0.8"/>
<text x="284.6" y="67.29" font-size="4.6" text-anchor="end" fill="#222">60</text>
<line x1="286.7" y1="86.66" x2="289.7" y2="86.66" stroke="#777" stroke-width="0.8"/>
<text x="284.6" y="88.31" font-size="4.6" text-anchor="end" fill="#222">40</text>
<line x1="286.7" y1="107.68" x2="289.7" y2="107.68" stroke="#777" stroke-width="0.8"/>
<text x="284.6" y="109.33" font-size="4.6" text-anchor="end" fill="#222">20</text>
<line x1="286.7" y1="128.7" x2="289.7" y2="128.7" stroke="#777" stroke-width="0.8"/>
<text x="284.6" y="130.35" font-size="4.6" text-anchor="end" fill="#222">0</text>
<line x1="289.7" y1="128.7" x2="289.7" y2="130.7" stroke="#777" stroke-width="0.8"/>
<text x="290.5" y="140.5" font-size="5.5" fill="#222" text-anchor="middle">10<tspan font-size="3.6" dy="-2.4">0</tspan></text>
<line x1="316.18" y1="128.7" x2="316.18" y2="130.7" stroke="#777" stroke-width="0.8"/>
<text x="316.98" y="140.5" font-size="5.5" fill="#222" text-anchor="middle">10<tspan font-size="3.6" dy="-2.4">1</tspan></text>
<line x1="342.65" y1="128.7" x2="342.65" y2="130.7" stroke="#777" stroke-width="0.8"/>
<text x="343.45" y="140.5" font-size="5.5" fill="#222" text-anchor="middle">10<tspan font-size="3.6" dy="-2.4">2</tspan></text>
<line x1="369.12" y1="128.7" x2="369.12" y2="130.7" stroke="#777" stroke-width="0.8"/>
<text x="369.93" y="140.5" font-size="5.5" fill="#222" text-anchor="middle">10<tspan font-size="3.6" dy="-2.4">3</tspan></text>
<rect x="289.7" y="23.6" width="105.9" height="105.1" fill="none" stroke="#7a7a7a" stroke-width="1"/>
<path d="M424.7 128.37 L425.05 128.24 L425.4 128.05 L425.75 127.83 L426.1 127.57 L426.45 127.28 L426.8 126.96 L427.15 126.61 L427.5 126.24 L427.85 125.86 L428.2 125.47 L428.55 125.06 L428.9 124.65 L429.25 124.25 L429.6 123.84 L429.95 123.44 L430.3 123.05 L430.65 122.64 L431 122.21 L431.35 121.77 L431.7 121.29 L432.05 120.78 L432.4 120.23 L432.75 119.63 L433.1 118.97 L433.45 118.26 L433.8 117.48 L434.15 116.61 L434.5 115.54 L434.85 114.25 L435.2 112.77 L435.55 111.1 L435.9 109.27 L436.25 107.28 L436.6 105.17 L436.95 102.93 L437.3 100.6 L437.65 97.77 L438 94.29 L438.35 90.55 L438.7 86.93 L439.05 83.79 L439.4 81.11 L439.75 78.63 L440.1 76.26 L440.45 73.9 L440.8 71.44 L441.15 68.79 L441.5 66 L441.85 63.2 L442.2 60.53 L442.55 57.89 L442.9 55.17 L443.25 53.05 L443.6 51.97 L443.95 51.11 L444.3 50.34 L444.65 49.7 L445 49.17 L445.35 48.79 L445.7 48.56 L446.05 48.5 L446.4 48.53 L446.75 48.6 L447.1 48.71 L447.45 48.85 L447.8 49.02 L448.15 49.22 L448.5 49.45 L448.85 49.7 L449.2 49.97 L449.55 50.26 L449.9 50.62 L450.25 51.14 L450.6 51.79 L450.95 52.56 L451.3 53.4 L451.65 54.3 L452 55.27 L452.35 56.46 L452.7 57.83 L453.05 59.31 L453.4 60.84 L453.75 62.36 L454.1 63.8 L454.45 65.12 L454.8 66.38 L455.15 67.69 L455.5 69.12 L455.85 70.75 L456.2 72.71 L456.55 75.39 L456.9 78.59 L457.25 81.93 L457.6 85.07 L457.95 88.18 L458.3 91.33 L458.65 94.44 L459 97.43 L459.35 100.22 L459.7 102.87 L460.05 105.54 L460.4 108.16 L460.75 110.64 L461.1 112.93 L461.45 114.94 L461.8 116.6 L462.15 117.92 L462.5 119.11 L462.85 120.19 L463.2 121.15 L463.55 122 L463.9 122.75 L464.25 123.41 L464.6 124.02 L464.95 124.62 L465.3 125.21 L465.65 125.78 L466 126.32 L466.35 126.82 L466.7 127.27 L467.05 127.67 L467.4 128 L467.75 128.25 L468.1 128.42 L468.1 128.6 L424.7 128.6 Z" fill="#878787"/>
<path d="M412.45 121.74 L412.8 120.91 L413.15 119.79 L413.5 118.44 L413.85 116.9 L414.2 115.21 L414.55 113.42 L414.9 111.59 L415.25 109.74 L415.6 107.94 L415.95 106.23 L416.3 104.58 L416.65 102.89 L417 101.15 L417.35 99.39 L417.7 97.61 L418.05 95.81 L418.4 94 L418.75 92.2 L419.1 90.41 L419.45 88.63 L419.8 86.83 L420.15 85.02 L420.5 83.21 L420.85 81.39 L421.2 79.59 L421.55 77.79 L421.9 76.01 L422.25 74.25 L422.6 72.49 L422.95 70.68 L423.3 68.86 L423.65 67.05 L424 65.28 L424.35 63.56 L424.7 61.92 L425.05 60.39 L425.4 59 L425.75 57.68 L426.1 56.37 L426.45 55.1 L426.8 53.89 L427.15 52.77 L427.5 51.76 L427.85 50.88 L428.2 50.17 L428.55 49.59 L428.9 49.03 L429.25 48.5 L429.6 48.04 L429.95 47.66 L430.3 47.41 L430.65 47.3 L431 47.45 L431.35 47.96 L431.7 48.79 L432.05 49.88 L432.4 51.18 L432.75 52.86 L433.1 56.28 L433.45 60.84 L433.8 65.5 L434.15 69.36 L434.5 72.98 L434.85 76.5 L435.2 79.85 L435.55 82.96 L435.9 85.78 L436.25 88.38 L436.6 90.82 L436.95 93.14 L437.3 95.4 L437.65 97.65 L438 99.93 L438.35 102.28 L438.7 104.63 L439.05 106.98 L439.4 109.31 L439.75 111.61 L440.1 113.87 L440.45 116.07 L440.8 118.32 L441.15 120.91 L441.5 123.55 L441.85 125.86 L442.2 127.47" fill="none" stroke="#3c3c3c" stroke-width="1.45" stroke-dasharray="3.6,2.9"/>
<path d="M412.1 128.6 L412.45 128.6 L412.8 128.6 L413.15 128.6 L413.5 128.6 L413.85 128.59 L414.2 128.59 L414.55 128.59 L414.9 128.59 L415.25 128.58 L415.6 128.58 L415.95 128.58 L416.3 128.57 L416.65 128.57 L417 128.56 L417.35 128.56 L417.7 128.55 L418.05 128.54 L418.4 128.54 L418.75 128.53 L419.1 128.52 L419.45 128.51 L419.8 128.5 L420.15 128.49 L420.5 128.46 L420.85 128.41 L421.2 128.33 L421.55 128.24 L421.9 128.13 L422.25 128.01 L422.6 127.87 L422.95 127.72 L423.3 127.56 L423.65 127.4 L424 127.23 L424.35 127.06 L424.7 126.88 L425.05 126.71 L425.4 126.54 L425.75 126.37 L426.1 126.21 L426.45 126.06 L426.8 125.92 L427.15 125.79 L427.5 125.66 L427.85 125.54 L428.2 125.43 L428.55 125.31 L428.9 125.19 L429.25 125.07 L429.6 124.95 L429.95 124.81 L430.3 124.67 L430.65 124.51 L431 124.35 L431.35 124.16 L431.7 123.96 L432.05 123.74 L432.4 123.5 L432.75 123.21 L433.1 122.84 L433.45 122.4 L433.8 121.88 L434.15 121.3 L434.5 120.66 L434.85 119.96 L435.2 119.2 L435.55 118.38 L435.9 117.52 L436.25 116.58 L436.6 115.43 L436.95 114.05 L437.3 112.47 L437.65 110.73 L438 108.85 L438.35 106.87 L438.7 104.81 L439.05 102.71 L439.4 100.6 L439.75 98.32 L440.1 95.76 L440.45 92.99 L440.8 90.13 L441.15 87.24 L441.5 84.42 L441.85 81.75 L442.2 79.33 L442.55 77.19 L442.9 75.21 L443.25 73.33 L443.6 71.53 L443.95 69.77 L444.3 68.01 L444.65 66.23 L445 64.42 L445.35 62.62 L445.7 60.84 L446.05 59.13 L446.4 57.5 L446.75 55.99 L447.1 54.5 L447.45 53.03 L447.8 51.61 L448.15 50.31 L448.5 49.19 L448.85 48.3 L449.2 47.59 L449.55 46.9 L449.9 46.24 L450.25 45.61 L450.6 45.04 L450.95 44.53 L451.3 44.1 L451.65 43.77 L452 43.53 L452.35 43.41 L452.7 43.43 L453.05 43.65 L453.4 44.04 L453.75 44.59 L454.1 45.28 L454.45 46.08 L454.8 47.02 L455.15 48.94 L455.5 51.62 L455.85 54.45 L456.2 56.81 L456.55 58.84 L456.9 60.76 L457.25 62.64 L457.6 64.59 L457.95 66.68 L458.3 68.9 L458.65 71.16 L459 73.54 L459.35 76.15 L459.7 79.09 L460.05 82.74 L460.4 87.55 L460.75 92.75 L461.1 97.51 L461.45 101.01 L461.8 103.71 L462.15 106.18 L462.5 108.43 L462.85 110.48 L463.2 112.33 L463.55 114 L463.9 115.49 L464.25 116.82 L464.6 118.03 L464.95 119.15 L465.3 120.19 L465.65 121.13 L466 121.97 L466.35 122.71 L466.7 123.34 L467.05 123.88 L467.4 124.42 L467.75 124.94 L468.1 125.44 L468.45 125.93 L468.8 126.38 L469.15 126.81 L469.5 127.2 L469.85 127.55 L470.2 127.85 L470.55 128.1 L470.9 128.3 L471.25 128.43 L471.6 128.49 L471.95 128.51 L472.3 128.52 L472.65 128.52 L473 128.53 L473.35 128.54 L473.7 128.55 L474.05 128.55 L474.4 128.56 L474.75 128.56 L475.1 128.57 L475.45 128.57 L475.8 128.58 L476.15 128.58 L476.5 128.59 L476.85 128.59 L477.2 128.59 L477.55 128.59 L477.9 128.6 L478.25 128.6 L478.6 128.6 L478.95 128.6 L479.3 128.6 L479.65 128.6 L480 128.6 L480.35 128.6 L480.7 128.6 L481.05 128.6 L481.4 128.6 L481.75 128.6 L482.1 128.6 L482.45 128.6 L482.8 128.6 L483.15 128.6 L483.5 128.6 L483.85 128.6 L484.2 128.6 L484.55 128.6 L484.9 128.6 L485.25 128.6 L485.6 128.6 L485.95 128.6 L486.3 128.6 L486.65 128.6 L487 128.6 L487.35 128.6 L487.7 128.6 L488.05 128.6 L488.4 128.6 L488.75 128.6 L489.1 128.6 L489.45 128.6 L489.8 128.6 L490.15 128.6 L490.5 128.6 L490.85 128.6 L491.2 128.6 L491.55 128.6 L491.9 128.6 L492.25 128.6 L492.6 128.6 L492.95 128.6 L493.3 128.6 L493.65 128.6 L494 128.6 L494.35 128.6 L494.7 128.6 L495.05 128.6 L495.4 128.6 L495.75 128.6 L496.1 128.6 L496.45 128.6 L496.8 128.6 L497.15 128.6 L497.5 128.6 L497.85 128.6 L498.2 128.6 L498.55 128.6 L498.9 128.6 L499.25 128.6 L499.6 128.6 L499.95 128.6 L500.3 128.6 L500.65 128.6 L501 128.6 L501.35 128.6 L501.7 128.6 L502.05 128.6 L502.4 128.6 L502.75 128.6 L503.1 128.6 L503.45 128.6 L503.8 128.6 L504.15 128.6 L504.5 128.6 L504.85 128.6 L505.2 128.6 L505.55 128.6 L505.9 128.6 L506.25 128.6 L506.6 128.6 L506.95 128.6 L507.3 128.6 L507.65 128.6 L508 128.6 L508.35 128.6 L508.7 128.6 L509.05 128.6 L509.4 128.6 L509.75 128.6 L510.1 128.6 L510.45 128.6 L510.8 128.6 L511.15 128.6 L511.5 128.6 L511.85 128.6 L512.2 128.6 L512.55 128.6 L512.9 128.6 L513.25 128.6 L513.6 128.6 L513.95 128.6 L514.3 128.6 L514.65 128.6 L515 128.6 L515.35 128.6 L515.7 128.6 L516.05 128.6 L516.4 128.6" fill="none" stroke="#000" stroke-width="1.7" stroke-linejoin="round"/>
<line x1="411.6" y1="128.6" x2="517" y2="128.6" stroke="#000" stroke-width="1.6"/>
<line x1="408.6" y1="23.6" x2="411.6" y2="23.6" stroke="#777" stroke-width="0.8"/>
<text x="406.5" y="25.25" font-size="4.6" text-anchor="end" fill="#222">100</text>
<line x1="408.6" y1="44.6" x2="411.6" y2="44.6" stroke="#777" stroke-width="0.8"/>
<text x="406.5" y="46.25" font-size="4.6" text-anchor="end" fill="#222">80</text>
<line x1="408.6" y1="65.6" x2="411.6" y2="65.6" stroke="#777" stroke-width="0.8"/>
<text x="406.5" y="67.25" font-size="4.6" text-anchor="end" fill="#222">60</text>
<line x1="408.6" y1="86.6" x2="411.6" y2="86.6" stroke="#777" stroke-width="0.8"/>
<text x="406.5" y="88.25" font-size="4.6" text-anchor="end" fill="#222">40</text>
<line x1="408.6" y1="107.6" x2="411.6" y2="107.6" stroke="#777" stroke-width="0.8"/>
<text x="406.5" y="109.25" font-size="4.6" text-anchor="end" fill="#222">20</text>
<line x1="408.6" y1="128.6" x2="411.6" y2="128.6" stroke="#777" stroke-width="0.8"/>
<text x="406.5" y="130.25" font-size="4.6" text-anchor="end" fill="#222">0</text>
<line x1="411.6" y1="128.6" x2="411.6" y2="130.6" stroke="#777" stroke-width="0.8"/>
<text x="412.4" y="140.5" font-size="5.5" fill="#222" text-anchor="middle">10<tspan font-size="3.6" dy="-2.4">0</tspan></text>
<line x1="437.95" y1="128.6" x2="437.95" y2="130.6" stroke="#777" stroke-width="0.8"/>
<text x="438.75" y="140.5" font-size="5.5" fill="#222" text-anchor="middle">10<tspan font-size="3.6" dy="-2.4">1</tspan></text>
<line x1="464.3" y1="128.6" x2="464.3" y2="130.6" stroke="#777" stroke-width="0.8"/>
<text x="465.1" y="140.5" font-size="5.5" fill="#222" text-anchor="middle">10<tspan font-size="3.6" dy="-2.4">2</tspan></text>
<line x1="490.65" y1="128.6" x2="490.65" y2="130.6" stroke="#777" stroke-width="0.8"/>
<text x="491.45" y="140.5" font-size="5.5" fill="#222" text-anchor="middle">10<tspan font-size="3.6" dy="-2.4">3</tspan></text>
<rect x="411.6" y="23.6" width="105.4" height="105" fill="none" stroke="#7a7a7a" stroke-width="1"/>
<path d="M315.75 254.97 L316.1 254.88 L316.45 254.72 L316.8 254.52 L317.15 254.26 L317.5 253.96 L317.85 253.62 L318.2 253.24 L318.55 252.83 L318.9 252.4 L319.25 251.94 L319.6 251.46 L319.95 250.97 L320.3 250.46 L320.65 249.95 L321 249.45 L321.35 248.93 L321.7 248.36 L322.05 247.75 L322.4 247.1 L322.75 246.4 L323.1 245.65 L323.45 244.86 L323.8 244.03 L324.15 243.14 L324.5 242.22 L324.85 241.25 L325.2 240.24 L325.55 239.18 L325.9 238.08 L326.25 236.93 L326.6 235.74 L326.95 234.51 L327.3 233.23 L327.65 231.84 L328 230.31 L328.35 228.66 L328.7 226.87 L329.05 224.96 L329.4 222.93 L329.75 220.77 L330.1 218.49 L330.45 216.09 L330.8 213.58 L331.15 210.95 L331.5 208.2 L331.85 205.13 L332.2 201.26 L332.55 196.88 L332.9 192.33 L333.25 187.91 L333.6 183.96 L333.95 180.8 L334.3 177.88 L334.65 174.92 L335 172.13 L335.35 169.7 L335.7 167.81 L336.05 166.66 L336.4 166.44 L336.75 167.08 L337.1 168.44 L337.45 170.36 L337.8 172.7 L338.15 175.31 L338.5 178.07 L338.85 180.82 L339.2 183.79 L339.55 187.44 L339.9 191.56 L340.25 195.94 L340.6 200.36 L340.95 204.6 L341.3 208.48 L341.65 212.37 L342 216.34 L342.35 220.28 L342.7 224.06 L343.05 227.56 L343.4 230.68 L343.75 233.28 L344.1 235.46 L344.45 237.54 L344.8 239.51 L345.15 241.35 L345.5 243.06 L345.85 244.62 L346.2 246.03 L346.55 247.26 L346.9 248.32 L347.25 249.19 L347.6 249.93 L347.95 250.65 L348.3 251.34 L348.65 251.99 L349 252.6 L349.35 253.16 L349.7 253.66 L350.05 254.09 L350.4 254.45 L350.75 254.73 L351.1 254.91 L351.45 255 L351.45 255.2 L315.75 255.2 Z" fill="#878787"/>
<path d="M293.35 251.7 L293.7 251.35 L294.05 250.93 L294.4 250.44 L294.75 249.9 L295.1 249.32 L295.45 248.71 L295.8 248.09 L296.15 247.46 L296.5 246.84 L296.85 246.25 L297.2 245.68 L297.55 245.13 L297.9 244.59 L298.25 244.05 L298.6 243.5 L298.95 242.95 L299.3 242.38 L299.65 241.79 L300 241.17 L300.35 240.51 L300.7 239.81 L301.05 239.07 L301.4 238.26 L301.75 237.37 L302.1 236.39 L302.45 235.33 L302.8 234.19 L303.15 232.99 L303.5 231.74 L303.85 230.44 L304.2 229.11 L304.55 227.76 L304.9 226.39 L305.25 225 L305.6 223.56 L305.95 222.05 L306.3 220.49 L306.65 218.89 L307 217.23 L307.35 215.53 L307.7 213.8 L308.05 212.03 L308.4 210.22 L308.75 208.37 L309.1 206.42 L309.45 204.4 L309.8 202.32 L310.15 200.2 L310.5 198.06 L310.85 195.92 L311.2 193.8 L311.55 191.7 L311.9 189.56 L312.25 187.37 L312.6 185.17 L312.95 183.03 L313.3 181.01 L313.65 179.15 L314 177.43 L314.35 175.73 L314.7 174.09 L315.05 172.54 L315.4 171.11 L315.75 169.84 L316.1 168.77 L316.45 167.85 L316.8 166.93 L317.15 166.05 L317.5 165.27 L317.85 164.63 L318.2 164.19 L318.55 164 L318.9 164.18 L319.25 164.77 L319.6 165.69 L319.95 166.85 L320.3 168.13 L320.65 169.45 L321 170.76 L321.35 172.25 L321.7 173.95 L322.05 175.84 L322.4 177.92 L322.75 180.18 L323.1 182.69 L323.45 185.73 L323.8 189.22 L324.15 192.99 L324.5 196.9 L324.85 200.78 L325.2 204.48 L325.55 207.86 L325.9 211.14 L326.25 214.47 L326.6 217.78 L326.95 221.02 L327.3 224.14 L327.65 227.06 L328 229.74 L328.35 232.12 L328.7 234.15 L329.05 235.95 L329.4 237.6 L329.75 239.12 L330.1 240.54 L330.45 241.88 L330.8 243.16 L331.15 244.4 L331.5 245.63 L331.85 246.88 L332.2 248.16 L332.55 249.5 L332.9 251.13 L333.25 252.87 L333.6 254.29" fill="none" stroke="#3c3c3c" stroke-width="1.45" stroke-dasharray="3.6,2.9"/>
<path d="M290.2 255.2 L290.55 255.2 L290.9 255.2 L291.25 255.2 L291.6 255.2 L291.95 255.2 L292.3 255.2 L292.65 255.2 L293 255.2 L293.35 255.2 L293.7 255.2 L294.05 255.2 L294.4 255.2 L294.75 255.2 L295.1 255.2 L295.45 255.2 L295.8 255.2 L296.15 255.2 L296.5 255.2 L296.85 255.2 L297.2 255.2 L297.55 255.2 L297.9 255.2 L298.25 255.2 L298.6 255.2 L298.95 255.2 L299.3 255.2 L299.65 255.2 L300 255.2 L300.35 255.2 L300.7 255.2 L301.05 255.2 L301.4 255.2 L301.75 255.2 L302.1 255.2 L302.45 255.2 L302.8 255.2 L303.15 255.2 L303.5 255.2 L303.85 255.2 L304.2 255.2 L304.55 255.2 L304.9 255.2 L305.25 255.2 L305.6 255.2 L305.95 255.2 L306.3 255.2 L306.65 255.2 L307 255.2 L307.35 255.2 L307.7 255.2 L308.05 255.2 L308.4 255.2 L308.75 255.2 L309.1 255.2 L309.45 255.19 L309.8 255.19 L310.15 255.18 L310.5 255.18 L310.85 255.17 L311.2 255.16 L311.55 255.15 L311.9 255.14 L312.25 255.13 L312.6 255.12 L312.95 255.11 L313.3 255.1 L313.65 255.09 L314 255.08 L314.35 255.07 L314.7 255.05 L315.05 255.04 L315.4 255.02 L315.75 255.01 L316.1 255 L316.45 254.98 L316.8 254.96 L317.15 254.94 L317.5 254.91 L317.85 254.88 L318.2 254.85 L318.55 254.82 L318.9 254.79 L319.25 254.75 L319.6 254.71 L319.95 254.67 L320.3 254.62 L320.65 254.57 L321 254.52 L321.35 254.47 L321.7 254.42 L322.05 254.36 L322.4 254.3 L322.75 254.24 L323.1 254.18 L323.45 254.11 L323.8 254.05 L324.15 253.98 L324.5 253.91 L324.85 253.84 L325.2 253.76 L325.55 253.69 L325.9 253.61 L326.25 253.52 L326.6 253.42 L326.95 253.31 L327.3 253.19 L327.65 253.07 L328 252.94 L328.35 252.8 L328.7 252.65 L329.05 252.49 L329.4 252.33 L329.75 252.15 L330.1 251.97 L330.45 251.78 L330.8 251.59 L331.15 251.38 L331.5 251.17 L331.85 250.95 L332.2 250.73 L332.55 250.49 L332.9 250.25 L333.25 250.01 L333.6 249.75 L333.95 249.49 L334.3 249.22 L334.65 248.92 L335 248.59 L335.35 248.22 L335.7 247.81 L336.05 247.38 L336.4 246.92 L336.75 246.43 L337.1 245.92 L337.45 245.39 L337.8 244.83 L338.15 244.26 L338.5 243.67 L338.85 243.07 L339.2 242.45 L339.55 241.83 L339.9 241.19 L340.25 240.55 L340.6 239.91 L340.95 239.26 L341.3 238.61 L341.65 237.94 L342 237.24 L342.35 236.5 L342.7 235.72 L343.05 234.9 L343.4 234.04 L343.75 233.13 L344.1 232.18 L344.45 231.19 L344.8 230.12 L345.15 228.95 L345.5 227.64 L345.85 226.18 L346.2 224.34 L346.55 222.12 L346.9 219.65 L347.25 217.05 L347.6 214.45 L347.95 211.99 L348.3 209.8 L348.65 207.8 L349 205.84 L349.35 203.93 L349.7 202.07 L350.05 200.27 L350.4 198.53 L350.75 196.87 L351.1 195.3 L351.45 193.81 L351.8 192.39 L352.15 190.92 L352.5 189.41 L352.85 187.88 L353.2 186.35 L353.55 184.85 L353.9 183.39 L354.25 181.99 L354.6 180.69 L354.95 179.49 L355.3 178.42 L355.65 177.51 L356 176.77 L356.35 176.22 L356.7 175.89 L357.05 175.8 L357.4 176.01 L357.75 176.5 L358.1 177.26 L358.45 178.26 L358.8 179.46 L359.15 180.84 L359.5 182.38 L359.85 184.04 L360.2 185.79 L360.55 187.61 L360.9 189.48 L361.25 191.35 L361.6 193.2 L361.95 195.24 L362.3 197.65 L362.65 200.31 L363 203.15 L363.35 206.07 L363.7 208.98 L364.05 211.92 L364.4 215.13 L364.75 218.44 L365.1 221.65 L365.45 224.58 L365.8 227.06 L366.15 229.33 L366.5 231.47 L366.85 233.49 L367.2 235.35 L367.55 237.05 L367.9 238.56 L368.25 239.88 L368.6 241.03 L368.95 242.08 L369.3 243.03 L369.65 243.91 L370 244.74 L370.35 245.53 L370.7 246.3 L371.05 247.11 L371.4 247.95 L371.75 248.78 L372.1 249.55 L372.45 250.21 L372.8 250.7 L373.15 250.98 L373.5 251.09 L373.85 251.18 L374.2 251.25 L374.55 251.3 L374.9 251.35 L375.25 251.4 L375.6 251.44 L375.95 251.49 L376.3 251.54 L376.65 251.58 L377 251.62 L377.35 251.65 L377.7 251.7 L378.05 251.77 L378.4 251.9 L378.75 252.27 L379.1 252.82 L379.45 253.46 L379.8 254.08 L380.15 254.61 L380.5 254.94 L380.85 255.01 L381.2 255.03 L381.55 255.05 L381.9 255.06 L382.25 255.08 L382.6 255.09 L382.95 255.11 L383.3 255.12 L383.65 255.13 L384 255.14 L384.35 255.15 L384.7 255.16 L385.05 255.17 L385.4 255.17 L385.75 255.18 L386.1 255.18 L386.45 255.19 L386.8 255.19 L387.15 255.19 L387.5 255.2 L387.85 255.2 L388.2 255.2 L388.55 255.2 L388.9 255.2 L389.25 255.2 L389.6 255.2 L389.95 255.2 L390.3 255.2 L390.65 255.2 L391 255.2 L391.35 255.2 L391.7 255.2 L392.05 255.2 L392.4 255.2 L392.75 255.2 L393.1 255.2 L393.45 255.2 L393.8 255.2 L394.15 255.2 L394.5 255.2 L394.85 255.2" fill="none" stroke="#000" stroke-width="1.7" stroke-linejoin="round"/>
<line x1="289.7" y1="255.2" x2="395.6" y2="255.2" stroke="#000" stroke-width="1.6"/>
<line x1="286.7" y1="149.5" x2="289.7" y2="149.5" stroke="#777" stroke-width="0.8"/>
<text x="284.6" y="151.15" font-size="4.6" text-anchor="end" fill="#222">100</text>
<line x1="286.7" y1="170.64" x2="289.7" y2="170.64" stroke="#777" stroke-width="0.8"/>
<text x="284.6" y="172.29" font-size="4.6" text-anchor="end" fill="#222">80</text>
<line x1="286.7" y1="191.78" x2="289.7" y2="191.78" stroke="#777" stroke-width="0.8"/>
<text x="284.6" y="193.43" font-size="4.6" text-anchor="end" fill="#222">60</text>
<line x1="286.7" y1="212.92" x2="289.7" y2="212.92" stroke="#777" stroke-width="0.8"/>
<text x="284.6" y="214.57" font-size="4.6" text-anchor="end" fill="#222">40</text>
<line x1="286.7" y1="234.06" x2="289.7" y2="234.06" stroke="#777" stroke-width="0.8"/>
<text x="284.6" y="235.71" font-size="4.6" text-anchor="end" fill="#222">20</text>
<line x1="286.7" y1="255.2" x2="289.7" y2="255.2" stroke="#777" stroke-width="0.8"/>
<text x="284.6" y="256.85" font-size="4.6" text-anchor="end" fill="#222">0</text>
<line x1="289.7" y1="255.2" x2="289.7" y2="257.2" stroke="#777" stroke-width="0.8"/>
<text x="290.5" y="267.2" font-size="5.5" fill="#222" text-anchor="middle">10<tspan font-size="3.6" dy="-2.4">0</tspan></text>
<line x1="316.18" y1="255.2" x2="316.18" y2="257.2" stroke="#777" stroke-width="0.8"/>
<text x="316.98" y="267.2" font-size="5.5" fill="#222" text-anchor="middle">10<tspan font-size="3.6" dy="-2.4">1</tspan></text>
<line x1="342.65" y1="255.2" x2="342.65" y2="257.2" stroke="#777" stroke-width="0.8"/>
<text x="343.45" y="267.2" font-size="5.5" fill="#222" text-anchor="middle">10<tspan font-size="3.6" dy="-2.4">2</tspan></text>
<line x1="369.12" y1="255.2" x2="369.12" y2="257.2" stroke="#777" stroke-width="0.8"/>
<text x="369.93" y="267.2" font-size="5.5" fill="#222" text-anchor="middle">10<tspan font-size="3.6" dy="-2.4">3</tspan></text>
<rect x="289.7" y="149.5" width="105.9" height="105.7" fill="none" stroke="#7a7a7a" stroke-width="1"/>
<path d="M431.15 254.98 L431.5 254.86 L431.85 254.64 L432.2 254.33 L432.55 253.94 L432.9 253.49 L433.25 252.99 L433.6 252.46 L433.95 251.9 L434.3 251.33 L434.65 250.75 L435 250.19 L435.35 249.66 L435.7 249.16 L436.05 248.68 L436.4 248.19 L436.75 247.71 L437.1 247.22 L437.45 246.72 L437.8 246.21 L438.15 245.68 L438.5 245.13 L438.85 244.57 L439.2 243.98 L439.55 243.35 L439.9 242.7 L440.25 242.01 L440.6 241.29 L440.95 240.53 L441.3 239.72 L441.65 238.86 L442 237.94 L442.35 236.95 L442.7 235.88 L443.05 234.72 L443.4 233.47 L443.75 232.1 L444.1 230.52 L444.45 228.59 L444.8 226.38 L445.15 223.98 L445.5 221.48 L445.85 218.93 L446.2 216.19 L446.55 213.22 L446.9 210.14 L447.25 207.09 L447.6 204.18 L447.95 201.27 L448.3 198.4 L448.65 195.68 L449 193.23 L449.35 191.08 L449.7 189.12 L450.05 187.22 L450.4 185.28 L450.75 183.18 L451.1 180.76 L451.45 177.94 L451.8 174.98 L452.15 172.2 L452.5 169.87 L452.85 167.51 L453.2 165.22 L453.55 163.4 L453.9 162.45 L454.25 162.49 L454.6 162.9 L454.95 163.6 L455.3 164.56 L455.65 165.74 L456 167.26 L456.35 170.87 L456.7 174.4 L457.05 176.35 L457.4 177.78 L457.75 179.15 L458.1 180.88 L458.45 183.53 L458.8 187.93 L459.15 193.16 L459.5 198.73 L459.85 204.84 L460.2 210.93 L460.55 217.67 L460.9 224.32 L461.25 229.95 L461.6 233.6 L461.95 235.81 L462.3 237.76 L462.65 239.47 L463 240.99 L463.35 242.33 L463.7 243.52 L464.05 244.6 L464.4 245.59 L464.75 246.53 L465.1 247.44 L465.45 248.35 L465.8 249.3 L466.15 250.32 L466.5 251.39 L466.85 252.44 L467.2 253.39 L467.55 254.18 L467.9 254.74 L468.25 254.99 L468.25 255.2 L431.15 255.2 Z" fill="#878787"/>
<path d="M412.95 253.62 L413.3 253.48 L413.65 253.33 L414 253.15 L414.35 252.95 L414.7 252.74 L415.05 252.52 L415.4 252.29 L415.75 252.05 L416.1 251.8 L416.45 251.56 L416.8 251.31 L417.15 251.07 L417.5 250.82 L417.85 250.57 L418.2 250.32 L418.55 250.06 L418.9 249.79 L419.25 249.52 L419.6 249.24 L419.95 248.96 L420.3 248.66 L420.65 248.36 L421 248.04 L421.35 247.72 L421.7 247.38 L422.05 247.04 L422.4 246.68 L422.75 246.3 L423.1 245.91 L423.45 245.51 L423.8 245.08 L424.15 244.63 L424.5 244.16 L424.85 243.66 L425.2 243.14 L425.55 242.59 L425.9 242.01 L426.25 241.4 L426.6 240.77 L426.95 240.11 L427.3 239.42 L427.65 238.69 L428 237.92 L428.35 237.07 L428.7 236.15 L429.05 235.18 L429.4 234.15 L429.75 233.06 L430.1 231.92 L430.45 230.73 L430.8 229.49 L431.15 228.21 L431.5 226.85 L431.85 225.37 L432.2 223.79 L432.55 222.13 L432.9 220.37 L433.25 218.55 L433.6 216.65 L433.95 214.66 L434.3 212.48 L434.65 210.16 L435 207.74 L435.35 205.27 L435.7 202.8 L436.05 200.38 L436.4 198.04 L436.75 195.76 L437.1 193.49 L437.45 191.23 L437.8 188.98 L438.15 186.72 L438.5 184.46 L438.85 182.18 L439.2 179.79 L439.55 176.95 L439.9 173.88 L440.25 170.85 L440.6 168.14 L440.95 166.04 L441.3 164.81 L441.65 164.65 L442 165.17 L442.35 166.18 L442.7 167.61 L443.05 169.39 L443.4 171.46 L443.75 173.74 L444.1 176.17 L444.45 178.68 L444.8 181.2 L445.15 184.18 L445.5 187.95 L445.85 192.22 L446.2 196.72 L446.55 201.17 L446.9 205.3 L447.25 208.9 L447.6 212.43 L447.95 215.96 L448.3 219.42 L448.65 222.74 L449 225.86 L449.35 228.71 L449.7 231.22 L450.05 233.33 L450.4 235.11 L450.75 236.73 L451.1 238.22 L451.45 239.61 L451.8 240.89 L452.15 242.1 L452.5 243.24 L452.85 244.33 L453.2 245.39 L453.55 246.43 L453.9 247.47 L454.25 248.53 L454.6 249.62 L454.95 250.88 L455.3 252.19 L455.65 253.42 L456 254.39" fill="none" stroke="#3c3c3c" stroke-width="1.45" stroke-dasharray="3.6,2.9"/>
<path d="M411.9 255.2 L412.25 255.2 L412.6 255.2 L412.95 255.2 L413.3 255.2 L413.65 255.2 L414 255.2 L414.35 255.2 L414.7 255.2 L415.05 255.2 L415.4 255.2 L415.75 255.2 L416.1 255.2 L416.45 255.2 L416.8 255.2 L417.15 255.2 L417.5 255.2 L417.85 255.2 L418.2 255.2 L418.55 255.2 L418.9 255.2 L419.25 255.19 L419.6 255.19 L419.95 255.19 L420.3 255.18 L420.65 255.17 L421 255.17 L421.35 255.16 L421.7 255.15 L422.05 255.14 L422.4 255.13 L422.75 255.12 L423.1 255.11 L423.45 255.1 L423.8 255.09 L424.15 255.08 L424.5 255.06 L424.85 255.05 L425.2 255.03 L425.55 255.02 L425.9 255 L426.25 254.99 L426.6 254.97 L426.95 254.94 L427.3 254.91 L427.65 254.88 L428 254.84 L428.35 254.79 L428.7 254.74 L429.05 254.69 L429.4 254.64 L429.75 254.58 L430.1 254.51 L430.45 254.44 L430.8 254.37 L431.15 254.3 L431.5 254.22 L431.85 254.14 L432.2 254.05 L432.55 253.96 L432.9 253.87 L433.25 253.77 L433.6 253.67 L433.95 253.56 L434.3 253.42 L434.65 253.27 L435 253.1 L435.35 252.92 L435.7 252.71 L436.05 252.49 L436.4 252.25 L436.75 251.99 L437.1 251.72 L437.45 251.43 L437.8 251.12 L438.15 250.8 L438.5 250.46 L438.85 250.11 L439.2 249.74 L439.55 249.36 L439.9 248.94 L440.25 248.45 L440.6 247.89 L440.95 247.27 L441.3 246.58 L441.65 245.83 L442 245.03 L442.35 244.17 L442.7 243.26 L443.05 242.29 L443.4 241.28 L443.75 240.22 L444.1 239.12 L444.45 237.98 L444.8 236.8 L445.15 235.58 L445.5 234.33 L445.85 233.03 L446.2 231.55 L446.55 229.89 L446.9 228.07 L447.25 226.1 L447.6 224.02 L447.95 221.83 L448.3 219.56 L448.65 217.23 L449 214.86 L449.35 212.47 L449.7 210.09 L450.05 207.73 L450.4 205.31 L450.75 202.66 L451.1 199.86 L451.45 196.97 L451.8 194.06 L452.15 191.19 L452.5 188.43 L452.85 185.85 L453.2 183.5 L453.55 181.46 L453.9 179.6 L454.25 177.67 L454.6 175.78 L454.95 174.03 L455.3 172.55 L455.65 171.44 L456 170.8 L456.35 170.77 L456.7 171.42 L457.05 172.65 L457.4 174.34 L457.75 176.35 L458.1 178.57 L458.45 180.87 L458.8 183.11 L459.15 185.19 L459.5 187.33 L459.85 189.67 L460.2 192.13 L460.55 194.62 L460.9 197.06 L461.25 199.39 L461.6 201.5 L461.95 203.48 L462.3 205.42 L462.65 207.33 L463 209.18 L463.35 210.97 L463.7 212.68 L464.05 214.29 L464.4 215.8 L464.75 217.19 L465.1 218.45 L465.45 219.63 L465.8 220.75 L466.15 221.82 L466.5 222.84 L466.85 223.82 L467.2 224.75 L467.55 225.66 L467.9 226.53 L468.25 227.38 L468.6 228.21 L468.95 229.02 L469.3 229.82 L469.65 230.61 L470 231.4 L470.35 232.15 L470.7 232.85 L471.05 233.5 L471.4 234.13 L471.75 234.75 L472.1 235.4 L472.45 236.08 L472.8 236.81 L473.15 237.62 L473.5 238.55 L473.85 239.66 L474.2 240.9 L474.55 242.21 L474.9 243.54 L475.25 244.82 L475.6 245.99 L475.95 247.07 L476.3 248.18 L476.65 249.3 L477 250.36 L477.35 251.32 L477.7 252.12 L478.05 252.72 L478.4 253.1 L478.75 253.44 L479.1 253.76 L479.45 254.04 L479.8 254.3 L480.15 254.52 L480.5 254.7 L480.85 254.85 L481.2 254.95 L481.55 255 L481.9 255.02 L482.25 255.03 L482.6 255.05 L482.95 255.07 L483.3 255.08 L483.65 255.09 L484 255.11 L484.35 255.12 L484.7 255.13 L485.05 255.14 L485.4 255.15 L485.75 255.16 L486.1 255.17 L486.45 255.17 L486.8 255.18 L487.15 255.18 L487.5 255.19 L487.85 255.19 L488.2 255.19 L488.55 255.2 L488.9 255.2 L489.25 255.2 L489.6 255.2 L489.95 255.2 L490.3 255.2 L490.65 255.2 L491 255.2 L491.35 255.2 L491.7 255.2 L492.05 255.2 L492.4 255.2 L492.75 255.2 L493.1 255.2 L493.45 255.2 L493.8 255.2 L494.15 255.2 L494.5 255.2 L494.85 255.2 L495.2 255.2 L495.55 255.2 L495.9 255.2 L496.25 255.2 L496.6 255.2 L496.95 255.2 L497.3 255.2 L497.65 255.2 L498 255.2 L498.35 255.2 L498.7 255.2 L499.05 255.2 L499.4 255.2 L499.75 255.2 L500.1 255.2 L500.45 255.2 L500.8 255.2 L501.15 255.2 L501.5 255.2 L501.85 255.2 L502.2 255.2 L502.55 255.2 L502.9 255.2 L503.25 255.2 L503.6 255.2 L503.95 255.2 L504.3 255.2 L504.65 255.2 L505 255.2 L505.35 255.2 L505.7 255.2 L506.05 255.2 L506.4 255.2 L506.75 255.2 L507.1 255.2 L507.45 255.2 L507.8 255.2 L508.15 255.2 L508.5 255.2 L508.85 255.2 L509.2 255.2 L509.55 255.2 L509.9 255.2 L510.25 255.2 L510.6 255.2 L510.95 255.2 L511.3 255.2 L511.65 255.2 L512 255.2 L512.35 255.2 L512.7 255.2 L513.05 255.2 L513.4 255.2 L513.75 255.2 L514.1 255.2 L514.45 255.2 L514.8 255.2 L515.15 255.2 L515.5 255.2 L515.85 255.2 L516.2 255.2" fill="none" stroke="#000" stroke-width="1.7" stroke-linejoin="round"/>
<line x1="411.4" y1="255.2" x2="517" y2="255.2" stroke="#000" stroke-width="1.6"/>
<line x1="408.4" y1="149.5" x2="411.4" y2="149.5" stroke="#777" stroke-width="0.8"/>
<text x="406.3" y="151.15" font-size="4.6" text-anchor="end" fill="#222">100</text>
<line x1="408.4" y1="170.64" x2="411.4" y2="170.64" stroke="#777" stroke-width="0.8"/>
<text x="406.3" y="172.29" font-size="4.6" text-anchor="end" fill="#222">80</text>
<line x1="408.4" y1="191.78" x2="411.4" y2="191.78" stroke="#777" stroke-width="0.8"/>
<text x="406.3" y="193.43" font-size="4.6" text-anchor="end" fill="#222">60</text>
<line x1="408.4" y1="212.92" x2="411.4" y2="212.92" stroke="#777" stroke-width="0.8"/>
<text x="406.3" y="214.57" font-size="4.6" text-anchor="end" fill="#222">40</text>
<line x1="408.4" y1="234.06" x2="411.4" y2="234.06" stroke="#777" stroke-width="0.8"/>
<text x="406.3" y="235.71" font-size="4.6" text-anchor="end" fill="#222">20</text>
<line x1="408.4" y1="255.2" x2="411.4" y2="255.2" stroke="#777" stroke-width="0.8"/>
<text x="406.3" y="256.85" font-size="4.6" text-anchor="end" fill="#222">0</text>
<line x1="411.4" y1="255.2" x2="411.4" y2="257.2" stroke="#777" stroke-width="0.8"/>
<text x="412.2" y="267.2" font-size="5.5" fill="#222" text-anchor="middle">10<tspan font-size="3.6" dy="-2.4">0</tspan></text>
<line x1="437.8" y1="255.2" x2="437.8" y2="257.2" stroke="#777" stroke-width="0.8"/>
<text x="438.6" y="267.2" font-size="5.5" fill="#222" text-anchor="middle">10<tspan font-size="3.6" dy="-2.4">1</tspan></text>
<line x1="464.2" y1="255.2" x2="464.2" y2="257.2" stroke="#777" stroke-width="0.8"/>
<text x="465" y="267.2" font-size="5.5" fill="#222" text-anchor="middle">10<tspan font-size="3.6" dy="-2.4">2</tspan></text>
<line x1="490.6" y1="255.2" x2="490.6" y2="257.2" stroke="#777" stroke-width="0.8"/>
<text x="491.4" y="267.2" font-size="5.5" fill="#222" text-anchor="middle">10<tspan font-size="3.6" dy="-2.4">3</tspan></text>
<rect x="411.4" y="149.5" width="105.6" height="105.7" fill="none" stroke="#7a7a7a" stroke-width="1"/>
<path d="M289 269.5 H518.2 M513.7 266.9 L518.2 269.5 L513.7 272.1" fill="none" stroke="#1a1a1a" stroke-width="1"/>
<text x="402" y="282.7" font-size="10.7" text-anchor="middle" fill="#111" stroke="#111" stroke-width="0.1">ULBP-2</text>
<text x="391.6" y="33.9" font-size="8.6" text-anchor="end" fill="#111" stroke="#111" stroke-width="0.1">WPI-Vpr WT</text>
<text x="391.6" y="44.3" font-size="8.6" text-anchor="end" fill="#111" stroke="#111" stroke-width="0.1">102.5</text>
<text x="391.6" y="54.7" font-size="8.6" text-anchor="end" fill="#111" stroke="#111" stroke-width="0.1">WPI</text>
<text x="391.6" y="65.1" font-size="8.6" text-anchor="end" fill="#111" stroke="#111" stroke-width="0.1">35.1</text>
<line x1="334" y1="31" x2="341.5" y2="31" stroke="#1a1a1a" stroke-width="1.35"/>
<line x1="366" y1="51.8" x2="374" y2="51.8" stroke="#6e6e6e" stroke-width="2"/>
<text x="512.4" y="33.9" font-size="8.6" text-anchor="end" fill="#111" stroke="#111" stroke-width="0.1">WPI-Vpr WT</text>
<text x="512.4" y="44.3" font-size="8.6" text-anchor="end" fill="#111" stroke="#111" stroke-width="0.1">31.7</text>
<text x="512.4" y="54.7" font-size="8.6" text-anchor="end" fill="#111" stroke="#111" stroke-width="0.1">WPI</text>
<text x="512.4" y="65.1" font-size="8.6" text-anchor="end" fill="#111" stroke="#111" stroke-width="0.1">21.1</text>
<line x1="453.5" y1="31" x2="461.5" y2="31" stroke="#1a1a1a" stroke-width="1.35"/>
<line x1="486" y1="51.8" x2="494" y2="51.8" stroke="#6e6e6e" stroke-width="2"/>
<text x="391.6" y="158.3" font-size="8.6" text-anchor="end" fill="#111" stroke="#111" stroke-width="0.1">APC</text>
<text x="391.6" y="168.7" font-size="8.6" text-anchor="end" fill="#111" stroke="#111" stroke-width="0.1">327.4</text>
<text x="391.6" y="179.1" font-size="8.6" text-anchor="end" fill="#111" stroke="#111" stroke-width="0.1">Mock</text>
<text x="391.6" y="189.5" font-size="8.6" text-anchor="end" fill="#111" stroke="#111" stroke-width="0.1">45.0</text>
<line x1="362.8" y1="155.4" x2="370.6" y2="155.4" stroke="#1a1a1a" stroke-width="1.35"/>
<line x1="363.2" y1="176.2" x2="371" y2="176.2" stroke="#6e6e6e" stroke-width="2"/>
<text x="512.4" y="158.3" font-size="8.6" text-anchor="end" fill="#111" stroke="#111" stroke-width="0.1">APC</text>
<text x="512.4" y="168.7" font-size="8.6" text-anchor="end" fill="#111" stroke="#111" stroke-width="0.1">48.4</text>
<text x="512.4" y="179.1" font-size="8.6" text-anchor="end" fill="#111" stroke="#111" stroke-width="0.1">Mock</text>
<text x="512.4" y="189.5" font-size="8.6" text-anchor="end" fill="#111" stroke="#111" stroke-width="0.1">24.8</text>
<line x1="485" y1="155.4" x2="492.3" y2="155.4" stroke="#1a1a1a" stroke-width="1.35"/>
<line x1="485" y1="176.2" x2="492.3" y2="176.2" stroke="#6e6e6e" stroke-width="2"/>
<text x="-1.2" y="308" font-size="14" text-anchor="start" font-weight="bold" fill="#000">C</text>
<text x="78" y="308.7" font-size="10.6" text-anchor="middle" fill="#111" stroke="#111" stroke-width="0.1">DMSO</text>
<text x="201" y="309" font-size="10.6" text-anchor="middle" fill="#111" stroke="#111" stroke-width="0.1">KU55933</text>
<line x1="29.1" y1="313.5" x2="131.9" y2="313.5" stroke="#777" stroke-width="1"/>
<line x1="151" y1="313.5" x2="253.3" y2="313.5" stroke="#777" stroke-width="1"/>
<path d="M13.6 550.5 V320.5 M11.2 324.9 L13.6 320.5 L16 324.9" fill="none" stroke="#1a1a1a" stroke-width="1"/>
<text font-size="10.75" text-anchor="middle" fill="#111" stroke="#111" stroke-width="0.1" transform="translate(7.9 415) rotate(-90)">Relative cell number</text>
<path d="M51.3 426.97 L51.65 426.9 L52 426.79 L52.35 426.65 L52.7 426.48 L53.05 426.27 L53.4 426.04 L53.75 425.77 L54.1 425.48 L54.45 425.16 L54.8 424.81 L55.15 424.41 L55.5 423.72 L55.85 422.74 L56.2 421.56 L56.55 420.22 L56.9 418.8 L57.25 417.36 L57.6 415.98 L57.95 414.65 L58.3 413.28 L58.65 411.86 L59 410.39 L59.35 408.89 L59.7 407.36 L60.05 405.81 L60.4 404.24 L60.75 402.66 L61.1 401.08 L61.45 399.51 L61.8 397.94 L62.15 396.39 L62.5 394.84 L62.85 393.28 L63.2 391.72 L63.55 390.15 L63.9 388.58 L64.25 386.99 L64.6 385.39 L64.95 383.77 L65.3 382.14 L65.65 380.49 L66 378.82 L66.35 377.12 L66.7 375.4 L67.05 373.65 L67.4 371.88 L67.75 370.11 L68.1 368.32 L68.45 366.53 L68.8 364.75 L69.15 362.97 L69.5 361.2 L69.85 359.41 L70.2 357.57 L70.55 355.7 L70.9 353.82 L71.25 351.95 L71.6 350.12 L71.95 348.33 L72.3 346.62 L72.65 345.01 L73 343.51 L73.35 342.06 L73.7 340.5 L74.05 338.92 L74.4 337.41 L74.75 336.06 L75.1 334.98 L75.45 334.26 L75.8 334 L76.15 334.16 L76.5 334.62 L76.85 335.34 L77.2 336.3 L77.55 337.45 L77.9 338.76 L78.25 340.2 L78.6 341.73 L78.95 343.34 L79.3 345.61 L79.65 348.66 L80 352.18 L80.35 355.86 L80.7 359.38 L81.05 362.47 L81.4 365.26 L81.75 367.91 L82.1 370.57 L82.45 373.35 L82.8 376.39 L83.15 379.83 L83.5 384.31 L83.85 389.45 L84.2 394.3 L84.55 397.92 L84.9 400.7 L85.25 403.23 L85.6 405.53 L85.95 407.63 L86.3 409.55 L86.65 411.32 L87 412.98 L87.35 414.53 L87.7 416.02 L88.05 417.5 L88.4 418.94 L88.75 420.31 L89.1 421.58 L89.45 422.7 L89.8 423.64 L90.15 424.37 L90.5 424.88 L90.85 425.34 L91.2 425.77 L91.55 426.15 L91.9 426.48 L92.25 426.74 L92.6 426.91 L92.95 427 L92.95 427.2 L51.3 427.2 Z" fill="#ababab"/>
<path d="M35.55 422.04 L35.9 420.23 L36.25 417.87 L36.6 415.5 L36.95 413.19 L37.3 410.68 L37.65 408.04 L38 405.3 L38.35 402.52 L38.7 399.74 L39.05 397.01 L39.4 394.28 L39.75 391.5 L40.1 388.7 L40.45 385.91 L40.8 383.15 L41.15 380.44 L41.5 377.79 L41.85 375.17 L42.2 372.56 L42.55 369.99 L42.9 367.46 L43.25 364.98 L43.6 362.55 L43.95 360.2 L44.3 357.88 L44.65 355.59 L45 353.35 L45.35 351.15 L45.7 348.99 L46.05 346.88 L46.4 344.82 L46.75 342.81 L47.1 340.61 L47.45 338.2 L47.8 335.78 L48.15 333.52 L48.5 331.6 L48.85 330.22 L49.2 329.54 L49.55 329.75 L49.9 330.85 L50.25 332.67 L50.6 335.02 L50.95 337.73 L51.3 340.62 L51.65 343.52 L52 346.97 L52.35 351.15 L52.7 355.77 L53.05 360.53 L53.4 365.61 L53.75 371.24 L54.1 376.63 L54.45 381.07 L54.8 384.8 L55.15 388.16 L55.5 391.4 L55.85 394.78 L56.2 398.54 L56.55 403.02 L56.9 407.77 L57.25 412.14 L57.6 415.5 L57.95 417.96 L58.3 420.05 L58.65 421.75 L59 423.04 L59.35 424.2 L59.7 425.23 L60.05 426.02 L60.4 426.46" fill="none" stroke="#3c3c3c" stroke-width="1.45" stroke-dasharray="3.6,2.9"/>
<path d="M29.6 427.2 L29.95 427.2 L30.3 427.2 L30.65 427.2 L31 427.2 L31.35 427.2 L31.7 427.2 L32.05 427.2 L32.4 427.2 L32.75 427.2 L33.1 427.2 L33.45 427.2 L33.8 427.2 L34.15 427.2 L34.5 427.2 L34.85 427.2 L35.2 427.2 L35.55 427.2 L35.9 427.2 L36.25 427.2 L36.6 427.2 L36.95 427.2 L37.3 427.2 L37.65 427.2 L38 427.2 L38.35 427.2 L38.7 427.2 L39.05 427.2 L39.4 427.2 L39.75 427.2 L40.1 427.2 L40.45 427.2 L40.8 427.2 L41.15 427.2 L41.5 427.2 L41.85 427.2 L42.2 427.2 L42.55 427.2 L42.9 427.2 L43.25 427.2 L43.6 427.2 L43.95 427.2 L44.3 427.2 L44.65 427.2 L45 427.2 L45.35 427.2 L45.7 427.2 L46.05 427.2 L46.4 427.2 L46.75 427.2 L47.1 427.2 L47.45 427.2 L47.8 427.2 L48.15 427.2 L48.5 427.19 L48.85 427.19 L49.2 427.18 L49.55 427.18 L49.9 427.17 L50.25 427.16 L50.6 427.16 L50.95 427.15 L51.3 427.14 L51.65 427.13 L52 427.12 L52.35 427.11 L52.7 427.1 L53.05 427.08 L53.4 427.07 L53.75 427.06 L54.1 427.04 L54.45 427.03 L54.8 427.01 L55.15 426.99 L55.5 426.96 L55.85 426.92 L56.2 426.87 L56.55 426.81 L56.9 426.74 L57.25 426.66 L57.6 426.56 L57.95 426.46 L58.3 426.35 L58.65 426.23 L59 426.1 L59.35 425.97 L59.7 425.82 L60.05 425.67 L60.4 425.51 L60.75 425.35 L61.1 425.17 L61.45 425 L61.8 424.82 L62.15 424.63 L62.5 424.42 L62.85 424.17 L63.2 423.87 L63.55 423.53 L63.9 423.16 L64.25 422.75 L64.6 422.3 L64.95 421.83 L65.3 421.32 L65.65 420.79 L66 420.24 L66.35 419.66 L66.7 419.07 L67.05 418.46 L67.4 417.83 L67.75 417.19 L68.1 416.54 L68.45 415.88 L68.8 415.22 L69.15 414.51 L69.5 413.76 L69.85 412.97 L70.2 412.15 L70.55 411.28 L70.9 410.38 L71.25 409.43 L71.6 408.45 L71.95 407.44 L72.3 406.38 L72.65 405.29 L73 404.17 L73.35 403.02 L73.7 401.83 L74.05 400.6 L74.4 399.35 L74.75 398.06 L75.1 396.72 L75.45 395.25 L75.8 393.64 L76.15 391.93 L76.5 390.13 L76.85 388.27 L77.2 386.37 L77.55 384.45 L77.9 382.53 L78.25 380.63 L78.6 378.77 L78.95 376.94 L79.3 375.1 L79.65 373.25 L80 371.38 L80.35 369.49 L80.7 367.57 L81.05 365.6 L81.4 363.58 L81.75 361.5 L82.1 359.28 L82.45 356.85 L82.8 354.29 L83.15 351.7 L83.5 349.17 L83.85 346.79 L84.2 344.66 L84.55 342.86 L84.9 341.15 L85.25 339.41 L85.6 337.71 L85.95 336.1 L86.3 334.66 L86.65 333.46 L87 332.55 L87.35 332.02 L87.7 331.91 L88.05 332.16 L88.4 332.69 L88.75 333.47 L89.1 334.46 L89.45 335.64 L89.8 336.97 L90.15 338.41 L90.5 339.94 L90.85 341.51 L91.2 343.1 L91.55 344.96 L91.9 347.27 L92.25 349.93 L92.6 352.81 L92.95 355.8 L93.3 358.76 L93.65 361.59 L94 364.41 L94.35 367.28 L94.7 370.2 L95.05 373.12 L95.4 376.03 L95.75 378.9 L96.1 381.73 L96.45 384.56 L96.8 387.38 L97.15 390.18 L97.5 392.93 L97.85 395.62 L98.2 398.25 L98.55 400.9 L98.9 403.58 L99.25 406.23 L99.6 408.79 L99.95 411.2 L100.3 413.41 L100.65 415.35 L101 417.1 L101.35 418.84 L101.7 420.48 L102.05 421.96 L102.4 423.21 L102.75 424.15 L103.1 424.74 L103.45 425.19 L103.8 425.6 L104.15 425.97 L104.5 426.29 L104.85 426.56 L105.2 426.77 L105.55 426.91 L105.9 426.99 L106.25 427.01 L106.6 427.03 L106.95 427.05 L107.3 427.07 L107.65 427.08 L108 427.09 L108.35 427.11 L108.7 427.12 L109.05 427.13 L109.4 427.14 L109.75 427.15 L110.1 427.16 L110.45 427.17 L110.8 427.17 L111.15 427.18 L111.5 427.18 L111.85 427.19 L112.2 427.19 L112.55 427.19 L112.9 427.2 L113.25 427.2 L113.6 427.2 L113.95 427.2 L114.3 427.2 L114.65 427.2 L115 427.2 L115.35 427.2 L115.7 427.2 L116.05 427.2 L116.4 427.2 L116.75 427.2 L117.1 427.2 L117.45 427.2 L117.8 427.2 L118.15 427.2 L118.5 427.2 L118.85 427.2 L119.2 427.2 L119.55 427.2 L119.9 427.2 L120.25 427.2 L120.6 427.2 L120.95 427.2 L121.3 427.2 L121.65 427.2 L122 427.2 L122.35 427.2 L122.7 427.2 L123.05 427.2 L123.4 427.2 L123.75 427.2 L124.1 427.2 L124.45 427.2 L124.8 427.2 L125.15 427.2 L125.5 427.2 L125.85 427.2 L126.2 427.2 L126.55 427.2 L126.9 427.2 L127.25 427.2 L127.6 427.2 L127.95 427.2 L128.3 427.2 L128.65 427.2 L129 427.2 L129.35 427.2 L129.7 427.2 L130.05 427.2 L130.4 427.2 L130.75 427.2 L131.1 427.2 L131.45 427.2 L131.8 427.2 L132.15 427.2 L132.5 427.2 L132.85 427.2 L133.2 427.2 L133.55 427.2 L133.9 427.2 L134.25 427.2 L134.6 427.2" fill="none" stroke="#000" stroke-width="1.7" stroke-linejoin="round"/>
<line x1="29.1" y1="427.2" x2="135.2" y2="427.2" stroke="#000" stroke-width="1.6"/>
<line x1="26.1" y1="321.2" x2="29.1" y2="321.2" stroke="#777" stroke-width="0.8"/>
<text x="24" y="322.85" font-size="4.6" text-anchor="end" fill="#222">100</text>
<line x1="26.1" y1="342.4" x2="29.1" y2="342.4" stroke="#777" stroke-width="0.8"/>
<text x="24" y="344.05" font-size="4.6" text-anchor="end" fill="#222">80</text>
<line x1="26.1" y1="363.6" x2="29.1" y2="363.6" stroke="#777" stroke-width="0.8"/>
<text x="24" y="365.25" font-size="4.6" text-anchor="end" fill="#222">60</text>
<line x1="26.1" y1="384.8" x2="29.1" y2="384.8" stroke="#777" stroke-width="0.8"/>
<text x="24" y="386.45" font-size="4.6" text-anchor="end" fill="#222">40</text>
<line x1="26.1" y1="406" x2="29.1" y2="406" stroke="#777" stroke-width="0.8"/>
<text x="24" y="407.65" font-size="4.6" text-anchor="end" fill="#222">20</text>
<line x1="26.1" y1="427.2" x2="29.1" y2="427.2" stroke="#777" stroke-width="0.8"/>
<text x="24" y="428.85" font-size="4.6" text-anchor="end" fill="#222">0</text>
<line x1="29.1" y1="427.2" x2="29.1" y2="429.2" stroke="#777" stroke-width="0.8"/>
<text x="29.9" y="438.4" font-size="5.5" fill="#222" text-anchor="middle">10<tspan font-size="3.6" dy="-2.4">0</tspan></text>
<line x1="55.62" y1="427.2" x2="55.62" y2="429.2" stroke="#777" stroke-width="0.8"/>
<text x="56.42" y="438.4" font-size="5.5" fill="#222" text-anchor="middle">10<tspan font-size="3.6" dy="-2.4">1</tspan></text>
<line x1="82.15" y1="427.2" x2="82.15" y2="429.2" stroke="#777" stroke-width="0.8"/>
<text x="82.95" y="438.4" font-size="5.5" fill="#222" text-anchor="middle">10<tspan font-size="3.6" dy="-2.4">2</tspan></text>
<line x1="108.67" y1="427.2" x2="108.67" y2="429.2" stroke="#777" stroke-width="0.8"/>
<text x="109.47" y="438.4" font-size="5.5" fill="#222" text-anchor="middle">10<tspan font-size="3.6" dy="-2.4">3</tspan></text>
<rect x="29.1" y="321.2" width="106.1" height="106" fill="none" stroke="#7a7a7a" stroke-width="1"/>
<path d="M170.25 426.46 L170.6 426.3 L170.95 426.11 L171.3 425.89 L171.65 425.63 L172 425.37 L172.35 425.1 L172.7 424.82 L173.05 424.56 L173.4 424.29 L173.75 424 L174.1 423.69 L174.45 423.35 L174.8 423 L175.15 422.64 L175.5 422.26 L175.85 421.86 L176.2 421.46 L176.55 421.04 L176.9 420.62 L177.25 420.2 L177.6 419.77 L177.95 419.35 L178.3 418.9 L178.65 418.43 L179 417.93 L179.35 417.38 L179.7 416.78 L180.05 416.12 L180.4 415.38 L180.75 414.47 L181.1 413.37 L181.45 412.12 L181.8 410.73 L182.15 409.23 L182.5 407.64 L182.85 405.98 L183.2 404.28 L183.55 402.56 L183.9 400.84 L184.25 399.14 L184.6 397.5 L184.95 395.87 L185.3 394.22 L185.65 392.53 L186 390.81 L186.35 389.06 L186.7 387.28 L187.05 385.47 L187.4 383.63 L187.75 381.76 L188.1 379.85 L188.45 377.9 L188.8 375.89 L189.15 373.82 L189.5 371.71 L189.85 369.56 L190.2 367.39 L190.55 365.22 L190.9 363.05 L191.25 360.89 L191.6 358.69 L191.95 356.44 L192.3 354.15 L192.65 351.87 L193 349.62 L193.35 347.44 L193.7 345.34 L194.05 343.37 L194.4 341.39 L194.75 339.22 L195.1 337.01 L195.45 334.92 L195.8 333.11 L196.15 331.73 L196.5 330.93 L196.85 330.86 L197.2 331.44 L197.55 332.56 L197.9 334.1 L198.25 335.97 L198.6 338.06 L198.95 340.26 L199.3 342.48 L199.65 344.82 L200 347.73 L200.35 351.04 L200.7 354.53 L201.05 357.99 L201.4 361.2 L201.75 364.14 L202.1 366.96 L202.45 369.72 L202.8 372.51 L203.15 375.38 L203.5 378.4 L203.85 381.7 L204.2 385.36 L204.55 389.15 L204.9 392.85 L205.25 396.22 L205.6 399.12 L205.95 401.9 L206.3 404.57 L206.65 407.11 L207 409.49 L207.35 411.67 L207.7 413.65 L208.05 415.37 L208.4 416.92 L208.75 418.42 L209.1 419.83 L209.45 421.13 L209.8 422.29 L210.15 423.29 L210.5 424.09 L210.85 424.67 L211.2 425.15 L211.55 425.6 L211.9 425.99 L212.25 426.3 L212.6 426.51 L212.6 426.6 L170.25 426.6 Z" fill="#ababab"/>
<path d="M162.2 420.09 L162.55 418.49 L162.9 416.58 L163.25 414.71 L163.6 412.81 L163.95 410.81 L164.3 408.7 L164.65 406.46 L165 404.1 L165.35 401.61 L165.7 398.97 L166.05 396.15 L166.4 392.91 L166.75 389.34 L167.1 385.61 L167.45 381.88 L167.8 378.29 L168.15 374.78 L168.5 371.26 L168.85 367.74 L169.2 364.22 L169.55 360.69 L169.9 357.01 L170.25 353.23 L170.6 349.52 L170.95 346.08 L171.3 343.1 L171.65 340.25 L172 337.33 L172.35 334.71 L172.7 332.78 L173.05 331.92 L173.4 332.16 L173.75 333.05 L174.1 334.46 L174.45 336.29 L174.8 338.41 L175.15 340.72 L175.5 343.1 L175.85 346.05 L176.2 349.89 L176.55 354.23 L176.9 358.72 L177.25 363.06 L177.6 367.67 L177.95 372.39 L178.3 376.92 L178.65 380.97 L179 384.67 L179.35 388.16 L179.7 391.54 L180.05 394.93 L180.4 398.43 L180.75 402.31 L181.1 406.34 L181.45 410.17 L181.8 413.43 L182.15 415.77 L182.5 417.5 L182.85 418.96 L183.2 420.22 L183.55 421.34 L183.9 422.4 L184.25 423.5 L184.6 424.68 L184.95 425.72" fill="none" stroke="#3c3c3c" stroke-width="1.45" stroke-dasharray="3.6,2.9"/>
<path d="M153.8 426.6 L154.15 426.6 L154.5 426.6 L154.85 426.6 L155.2 426.6 L155.55 426.6 L155.9 426.6 L156.25 426.6 L156.6 426.6 L156.95 426.6 L157.3 426.6 L157.65 426.6 L158 426.6 L158.35 426.6 L158.7 426.6 L159.05 426.6 L159.4 426.6 L159.75 426.6 L160.1 426.6 L160.45 426.6 L160.8 426.6 L161.15 426.6 L161.5 426.6 L161.85 426.6 L162.2 426.6 L162.55 426.6 L162.9 426.6 L163.25 426.6 L163.6 426.6 L163.95 426.6 L164.3 426.6 L164.65 426.6 L165 426.6 L165.35 426.6 L165.7 426.6 L166.05 426.6 L166.4 426.6 L166.75 426.6 L167.1 426.6 L167.45 426.6 L167.8 426.6 L168.15 426.6 L168.5 426.6 L168.85 426.6 L169.2 426.6 L169.55 426.6 L169.9 426.6 L170.25 426.6 L170.6 426.6 L170.95 426.6 L171.3 426.6 L171.65 426.6 L172 426.6 L172.35 426.6 L172.7 426.6 L173.05 426.6 L173.4 426.6 L173.75 426.59 L174.1 426.59 L174.45 426.58 L174.8 426.57 L175.15 426.56 L175.5 426.54 L175.85 426.52 L176.2 426.5 L176.55 426.48 L176.9 426.46 L177.25 426.44 L177.6 426.41 L177.95 426.39 L178.3 426.36 L178.65 426.33 L179 426.3 L179.35 426.26 L179.7 426.22 L180.05 426.16 L180.4 426.09 L180.75 426 L181.1 425.91 L181.45 425.81 L181.8 425.7 L182.15 425.59 L182.5 425.46 L182.85 425.33 L183.2 425.18 L183.55 425.04 L183.9 424.88 L184.25 424.72 L184.6 424.55 L184.95 424.36 L185.3 424.13 L185.65 423.88 L186 423.6 L186.35 423.28 L186.7 422.95 L187.05 422.58 L187.4 422.19 L187.75 421.78 L188.1 421.34 L188.45 420.89 L188.8 420.41 L189.15 419.91 L189.5 419.39 L189.85 418.86 L190.2 418.31 L190.55 417.74 L190.9 417.16 L191.25 416.56 L191.6 415.95 L191.95 415.33 L192.3 414.64 L192.65 413.89 L193 413.07 L193.35 412.19 L193.7 411.26 L194.05 410.28 L194.4 409.24 L194.75 408.17 L195.1 407.05 L195.45 405.9 L195.8 404.71 L196.15 403.5 L196.5 402.26 L196.85 401 L197.2 399.72 L197.55 398.43 L197.9 397.12 L198.25 395.74 L198.6 394.26 L198.95 392.7 L199.3 391.08 L199.65 389.4 L200 387.69 L200.35 385.95 L200.7 384.21 L201.05 382.47 L201.4 380.75 L201.75 379.06 L202.1 377.41 L202.45 375.78 L202.8 374.17 L203.15 372.55 L203.5 370.91 L203.85 369.25 L204.2 367.54 L204.55 365.78 L204.9 363.96 L205.25 362.05 L205.6 360.01 L205.95 357.75 L206.3 355.31 L206.65 352.78 L207 350.24 L207.35 347.77 L207.7 345.45 L208.05 343.37 L208.4 341.38 L208.75 339.25 L209.1 337.14 L209.45 335.25 L209.8 333.75 L210.15 332.81 L210.5 332.62 L210.85 333 L211.2 333.81 L211.55 334.98 L211.9 336.42 L212.25 338.09 L212.6 339.89 L212.95 341.76 L213.3 343.66 L213.65 346.08 L214 349.02 L214.35 352.29 L214.7 355.69 L215.05 359 L215.4 362.04 L215.75 364.93 L216.1 367.77 L216.45 370.59 L216.8 373.43 L217.15 376.33 L217.5 379.3 L217.85 382.4 L218.2 385.61 L218.55 388.87 L218.9 392.12 L219.25 395.3 L219.6 398.38 L219.95 401.57 L220.3 404.85 L220.65 408.05 L221 411.02 L221.35 413.59 L221.7 415.6 L222.05 417.25 L222.4 418.8 L222.75 420.24 L223.1 421.53 L223.45 422.65 L223.8 423.56 L224.15 424.26 L224.5 424.71 L224.85 425.08 L225.2 425.41 L225.55 425.72 L225.9 425.99 L226.25 426.22 L226.6 426.4 L226.95 426.52 L227.3 426.59 L227.65 426.6 L228 426.6 L228.35 426.6 L228.7 426.6 L229.05 426.6 L229.4 426.6 L229.75 426.6 L230.1 426.6 L230.45 426.6 L230.8 426.6 L231.15 426.6 L231.5 426.6 L231.85 426.6 L232.2 426.6 L232.55 426.6 L232.9 426.6 L233.25 426.6 L233.6 426.6 L233.95 426.6 L234.3 426.6 L234.65 426.6 L235 426.6 L235.35 426.6 L235.7 426.6 L236.05 426.6 L236.4 426.6 L236.75 426.6 L237.1 426.6 L237.45 426.6 L237.8 426.6 L238.15 426.6 L238.5 426.6 L238.85 426.6 L239.2 426.6 L239.55 426.6 L239.9 426.6 L240.25 426.6 L240.6 426.6 L240.95 426.6 L241.3 426.6 L241.65 426.6 L242 426.6 L242.35 426.6 L242.7 426.6 L243.05 426.6 L243.4 426.6 L243.75 426.6 L244.1 426.6 L244.45 426.6 L244.8 426.6 L245.15 426.6 L245.5 426.6 L245.85 426.6 L246.2 426.6 L246.55 426.6 L246.9 426.6 L247.25 426.6 L247.6 426.6 L247.95 426.6 L248.3 426.6 L248.65 426.6 L249 426.6 L249.35 426.6 L249.7 426.6 L250.05 426.6 L250.4 426.6 L250.75 426.6 L251.1 426.6 L251.45 426.6 L251.8 426.6 L252.15 426.6 L252.5 426.6 L252.85 426.6 L253.2 426.6 L253.55 426.6 L253.9 426.6 L254.25 426.6 L254.6 426.6 L254.95 426.6 L255.3 426.6 L255.65 426.6 L256 426.6 L256.35 426.6 L256.7 426.6 L257.05 426.6 L257.4 426.6 L257.75 426.6" fill="none" stroke="#000" stroke-width="1.7" stroke-linejoin="round"/>
<line x1="153.3" y1="426.6" x2="258.4" y2="426.6" stroke="#000" stroke-width="1.6"/>
<line x1="150.3" y1="321.2" x2="153.3" y2="321.2" stroke="#777" stroke-width="0.8"/>
<text x="148.2" y="322.85" font-size="4.6" text-anchor="end" fill="#222">100</text>
<line x1="150.3" y1="342.28" x2="153.3" y2="342.28" stroke="#777" stroke-width="0.8"/>
<text x="148.2" y="343.93" font-size="4.6" text-anchor="end" fill="#222">80</text>
<line x1="150.3" y1="363.36" x2="153.3" y2="363.36" stroke="#777" stroke-width="0.8"/>
<text x="148.2" y="365.01" font-size="4.6" text-anchor="end" fill="#222">60</text>
<line x1="150.3" y1="384.44" x2="153.3" y2="384.44" stroke="#777" stroke-width="0.8"/>
<text x="148.2" y="386.09" font-size="4.6" text-anchor="end" fill="#222">40</text>
<line x1="150.3" y1="405.52" x2="153.3" y2="405.52" stroke="#777" stroke-width="0.8"/>
<text x="148.2" y="407.17" font-size="4.6" text-anchor="end" fill="#222">20</text>
<line x1="150.3" y1="426.6" x2="153.3" y2="426.6" stroke="#777" stroke-width="0.8"/>
<text x="148.2" y="428.25" font-size="4.6" text-anchor="end" fill="#222">0</text>
<line x1="153.3" y1="426.6" x2="153.3" y2="428.6" stroke="#777" stroke-width="0.8"/>
<text x="154.1" y="438.4" font-size="5.5" fill="#222" text-anchor="middle">10<tspan font-size="3.6" dy="-2.4">0</tspan></text>
<line x1="179.57" y1="426.6" x2="179.57" y2="428.6" stroke="#777" stroke-width="0.8"/>
<text x="180.38" y="438.4" font-size="5.5" fill="#222" text-anchor="middle">10<tspan font-size="3.6" dy="-2.4">1</tspan></text>
<line x1="205.85" y1="426.6" x2="205.85" y2="428.6" stroke="#777" stroke-width="0.8"/>
<text x="206.65" y="438.4" font-size="5.5" fill="#222" text-anchor="middle">10<tspan font-size="3.6" dy="-2.4">2</tspan></text>
<line x1="232.12" y1="426.6" x2="232.12" y2="428.6" stroke="#777" stroke-width="0.8"/>
<text x="232.93" y="438.4" font-size="5.5" fill="#222" text-anchor="middle">10<tspan font-size="3.6" dy="-2.4">3</tspan></text>
<rect x="153.3" y="321.2" width="105.1" height="105.4" fill="none" stroke="#7a7a7a" stroke-width="1"/>
<path d="M47.8 550.46 L48.15 550.32 L48.5 550.13 L48.85 549.91 L49.2 549.64 L49.55 549.34 L49.9 549.02 L50.25 548.66 L50.6 548.29 L50.95 547.89 L51.3 547.48 L51.65 547.06 L52 546.62 L52.35 546.19 L52.7 545.74 L53.05 545.22 L53.4 544.64 L53.75 543.99 L54.1 543.27 L54.45 542.49 L54.8 541.64 L55.15 540.74 L55.5 539.77 L55.85 538.75 L56.2 537.59 L56.55 536.2 L56.9 534.61 L57.25 532.85 L57.6 530.98 L57.95 529.03 L58.3 527.04 L58.65 525.05 L59 523.11 L59.35 521.26 L59.7 519.51 L60.05 517.81 L60.4 516.13 L60.75 514.47 L61.1 512.81 L61.45 511.14 L61.8 509.45 L62.15 507.73 L62.5 505.98 L62.85 504.17 L63.2 502.3 L63.55 500.35 L63.9 498.33 L64.25 496.25 L64.6 494.13 L64.95 491.97 L65.3 489.79 L65.65 487.61 L66 485.43 L66.35 483.27 L66.7 481.04 L67.05 478.76 L67.4 476.46 L67.75 474.18 L68.1 471.94 L68.45 469.78 L68.8 467.73 L69.15 465.84 L69.5 463.85 L69.85 461.73 L70.2 459.63 L70.55 457.7 L70.9 456.07 L71.25 454.9 L71.6 454.33 L71.95 454.54 L72.3 455.58 L72.65 457.27 L73 459.4 L73.35 461.77 L73.7 464.17 L74.05 466.41 L74.4 468.72 L74.75 471.27 L75.1 473.97 L75.45 476.76 L75.8 479.56 L76.15 482.31 L76.5 484.94 L76.85 487.54 L77.2 490.13 L77.55 492.72 L77.9 495.28 L78.25 497.79 L78.6 500.25 L78.95 502.64 L79.3 504.99 L79.65 507.34 L80 509.65 L80.35 511.92 L80.7 514.13 L81.05 516.26 L81.4 518.3 L81.75 520.23 L82.1 522.09 L82.45 523.93 L82.8 525.75 L83.15 527.53 L83.5 529.27 L83.85 530.94 L84.2 532.54 L84.55 534.06 L84.9 535.48 L85.25 536.79 L85.6 537.98 L85.95 539.04 L86.3 540.03 L86.65 540.95 L87 541.82 L87.35 542.64 L87.7 543.41 L88.05 544.14 L88.4 544.84 L88.75 545.51 L89.1 546.16 L89.45 546.79 L89.8 547.46 L90.15 548.16 L90.5 548.86 L90.85 549.49 L91.2 550.02 L91.55 550.4 L91.55 550.6 L47.8 550.6 Z" fill="#ababab"/>
<path d="M34.85 545.61 L35.2 543.99 L35.55 541.31 L35.9 538.5 L36.25 535.79 L36.6 532.83 L36.95 529.73 L37.3 526.57 L37.65 523.43 L38 520.4 L38.35 517.46 L38.7 514.52 L39.05 511.61 L39.4 508.73 L39.75 505.89 L40.1 503.09 L40.45 500.35 L40.8 497.68 L41.15 495.06 L41.5 492.46 L41.85 489.86 L42.2 487.24 L42.55 484.58 L42.9 481.79 L43.25 478.79 L43.6 475.73 L43.95 472.75 L44.3 469.97 L44.65 467.55 L45 465.58 L45.35 463.71 L45.7 461.85 L46.05 460.06 L46.4 458.4 L46.75 456.94 L47.1 455.74 L47.45 454.86 L47.8 454.38 L48.15 454.36 L48.5 454.97 L48.85 456.16 L49.2 457.84 L49.55 459.92 L49.9 462.31 L50.25 464.93 L50.6 468.13 L50.95 473.31 L51.3 479.37 L51.65 484.92 L52 489.92 L52.35 494.81 L52.7 499.6 L53.05 504.35 L53.4 509.28 L53.75 514.08 L54.1 518.35 L54.45 521.78 L54.8 524.79 L55.15 527.46 L55.5 529.73 L55.85 531.53 L56.2 532.99 L56.55 534.25 L56.9 535.35 L57.25 536.34 L57.6 537.25 L57.95 538.03 L58.3 538.73 L58.65 539.43 L59 540.25 L59.35 541.3 L59.7 542.49 L60.05 543.68 L60.4 544.77 L60.75 545.62" fill="none" stroke="#3c3c3c" stroke-width="1.45" stroke-dasharray="3.6,2.9"/>
<path d="M29.6 550.6 L29.95 550.6 L30.3 550.6 L30.65 550.6 L31 550.6 L31.35 550.6 L31.7 550.6 L32.05 550.6 L32.4 550.6 L32.75 550.6 L33.1 550.6 L33.45 550.6 L33.8 550.6 L34.15 550.6 L34.5 550.6 L34.85 550.6 L35.2 550.6 L35.55 550.6 L35.9 550.6 L36.25 550.6 L36.6 550.6 L36.95 550.6 L37.3 550.6 L37.65 550.6 L38 550.6 L38.35 550.6 L38.7 550.6 L39.05 550.6 L39.4 550.6 L39.75 550.6 L40.1 550.6 L40.45 550.59 L40.8 550.58 L41.15 550.57 L41.5 550.55 L41.85 550.52 L42.2 550.49 L42.55 550.46 L42.9 550.42 L43.25 550.38 L43.6 550.33 L43.95 550.28 L44.3 550.23 L44.65 550.17 L45 550.11 L45.35 550.05 L45.7 549.98 L46.05 549.92 L46.4 549.85 L46.75 549.77 L47.1 549.7 L47.45 549.62 L47.8 549.55 L48.15 549.46 L48.5 549.36 L48.85 549.23 L49.2 549.08 L49.55 548.91 L49.9 548.72 L50.25 548.51 L50.6 548.29 L50.95 548.06 L51.3 547.82 L51.65 547.58 L52 547.33 L52.35 547.07 L52.7 546.82 L53.05 546.56 L53.4 546.31 L53.75 546.07 L54.1 545.83 L54.45 545.6 L54.8 545.38 L55.15 545.17 L55.5 544.95 L55.85 544.71 L56.2 544.47 L56.55 544.2 L56.9 543.91 L57.25 543.61 L57.6 543.28 L57.95 542.94 L58.3 542.58 L58.65 542.2 L59 541.79 L59.35 541.37 L59.7 540.93 L60.05 540.46 L60.4 539.97 L60.75 539.46 L61.1 538.92 L61.45 538.35 L61.8 537.73 L62.15 537.05 L62.5 536.32 L62.85 535.54 L63.2 534.71 L63.55 533.84 L63.9 532.93 L64.25 531.98 L64.6 531 L64.95 529.99 L65.3 528.96 L65.65 527.91 L66 526.83 L66.35 525.74 L66.7 524.64 L67.05 523.53 L67.4 522.41 L67.75 521.3 L68.1 520.18 L68.45 519.03 L68.8 517.85 L69.15 516.63 L69.5 515.37 L69.85 514.08 L70.2 512.77 L70.55 511.42 L70.9 510.06 L71.25 508.66 L71.6 507.25 L71.95 505.83 L72.3 504.38 L72.65 502.93 L73 501.46 L73.35 499.97 L73.7 498.45 L74.05 496.91 L74.4 495.34 L74.75 493.74 L75.1 492.11 L75.45 490.44 L75.8 488.74 L76.15 487.01 L76.5 485.23 L76.85 483.41 L77.2 481.49 L77.55 479.48 L77.9 477.41 L78.25 475.29 L78.6 473.17 L78.95 471.05 L79.3 468.97 L79.65 466.94 L80 464.94 L80.35 462.78 L80.7 460.64 L81.05 458.74 L81.4 457.3 L81.75 456.35 L82.1 455.51 L82.45 454.78 L82.8 454.19 L83.15 453.75 L83.5 453.5 L83.85 453.36 L84.2 453.23 L84.55 453.13 L84.9 453.05 L85.25 453.01 L85.6 453 L85.95 453.05 L86.3 453.16 L86.65 453.32 L87 453.53 L87.35 453.79 L87.7 454.12 L88.05 454.99 L88.4 456.32 L88.75 457.79 L89.1 459.32 L89.45 461.07 L89.8 463.02 L90.15 465.15 L90.5 467.44 L90.85 469.98 L91.2 472.76 L91.55 475.71 L91.9 478.78 L92.25 481.93 L92.6 485.12 L92.95 488.52 L93.3 492.1 L93.65 495.75 L94 499.35 L94.35 502.78 L94.7 506.09 L95.05 509.34 L95.4 512.54 L95.75 515.68 L96.1 518.76 L96.45 521.83 L96.8 525.08 L97.15 528.41 L97.5 531.64 L97.85 534.57 L98.2 537.02 L98.55 538.81 L98.9 540.23 L99.25 541.52 L99.6 542.67 L99.95 543.72 L100.3 544.65 L100.65 545.5 L101 546.27 L101.35 546.96 L101.7 547.6 L102.05 548.23 L102.4 548.86 L102.75 549.45 L103.1 549.96 L103.45 550.34 L103.8 550.56 L104.15 550.6 L104.5 550.6 L104.85 550.6 L105.2 550.6 L105.55 550.6 L105.9 550.6 L106.25 550.6 L106.6 550.6 L106.95 550.6 L107.3 550.6 L107.65 550.6 L108 550.6 L108.35 550.6 L108.7 550.6 L109.05 550.6 L109.4 550.6 L109.75 550.6 L110.1 550.6 L110.45 550.6 L110.8 550.6 L111.15 550.6 L111.5 550.6 L111.85 550.6 L112.2 550.6 L112.55 550.6 L112.9 550.6 L113.25 550.6 L113.6 550.6 L113.95 550.6 L114.3 550.6 L114.65 550.6 L115 550.6 L115.35 550.6 L115.7 550.6 L116.05 550.6 L116.4 550.6 L116.75 550.6 L117.1 550.6 L117.45 550.6 L117.8 550.6 L118.15 550.6 L118.5 550.6 L118.85 550.6 L119.2 550.6 L119.55 550.6 L119.9 550.6 L120.25 550.6 L120.6 550.6 L120.95 550.6 L121.3 550.6 L121.65 550.6 L122 550.6 L122.35 550.6 L122.7 550.6 L123.05 550.6 L123.4 550.6 L123.75 550.6 L124.1 550.6 L124.45 550.6 L124.8 550.6 L125.15 550.6 L125.5 550.6 L125.85 550.6 L126.2 550.6 L126.55 550.6 L126.9 550.6 L127.25 550.6 L127.6 550.6 L127.95 550.6 L128.3 550.6 L128.65 550.6 L129 550.6 L129.35 550.6 L129.7 550.6 L130.05 550.6 L130.4 550.6 L130.75 550.6 L131.1 550.6 L131.45 550.6 L131.8 550.6 L132.15 550.6 L132.5 550.6 L132.85 550.6 L133.2 550.6 L133.55 550.6 L133.9 550.6 L134.25 550.6" fill="none" stroke="#000" stroke-width="1.7" stroke-linejoin="round"/>
<line x1="29.1" y1="550.6" x2="134.8" y2="550.6" stroke="#000" stroke-width="1.6"/>
<line x1="26.1" y1="445" x2="29.1" y2="445" stroke="#777" stroke-width="0.8"/>
<text x="24" y="446.65" font-size="4.6" text-anchor="end" fill="#222">100</text>
<line x1="26.1" y1="466.12" x2="29.1" y2="466.12" stroke="#777" stroke-width="0.8"/>
<text x="24" y="467.77" font-size="4.6" text-anchor="end" fill="#222">80</text>
<line x1="26.1" y1="487.24" x2="29.1" y2="487.24" stroke="#777" stroke-width="0.8"/>
<text x="24" y="488.89" font-size="4.6" text-anchor="end" fill="#222">60</text>
<line x1="26.1" y1="508.36" x2="29.1" y2="508.36" stroke="#777" stroke-width="0.8"/>
<text x="24" y="510.01" font-size="4.6" text-anchor="end" fill="#222">40</text>
<line x1="26.1" y1="529.48" x2="29.1" y2="529.48" stroke="#777" stroke-width="0.8"/>
<text x="24" y="531.13" font-size="4.6" text-anchor="end" fill="#222">20</text>
<line x1="26.1" y1="550.6" x2="29.1" y2="550.6" stroke="#777" stroke-width="0.8"/>
<text x="24" y="552.25" font-size="4.6" text-anchor="end" fill="#222">0</text>
<line x1="29.1" y1="550.6" x2="29.1" y2="552.6" stroke="#777" stroke-width="0.8"/>
<text x="29.9" y="561.5" font-size="5.5" fill="#222" text-anchor="middle">10<tspan font-size="3.6" dy="-2.4">0</tspan></text>
<line x1="55.53" y1="550.6" x2="55.53" y2="552.6" stroke="#777" stroke-width="0.8"/>
<text x="56.33" y="561.5" font-size="5.5" fill="#222" text-anchor="middle">10<tspan font-size="3.6" dy="-2.4">1</tspan></text>
<line x1="81.95" y1="550.6" x2="81.95" y2="552.6" stroke="#777" stroke-width="0.8"/>
<text x="82.75" y="561.5" font-size="5.5" fill="#222" text-anchor="middle">10<tspan font-size="3.6" dy="-2.4">2</tspan></text>
<line x1="108.38" y1="550.6" x2="108.38" y2="552.6" stroke="#777" stroke-width="0.8"/>
<text x="109.17" y="561.5" font-size="5.5" fill="#222" text-anchor="middle">10<tspan font-size="3.6" dy="-2.4">3</tspan></text>
<rect x="29.1" y="445" width="105.7" height="105.6" fill="none" stroke="#7a7a7a" stroke-width="1"/>
<path d="M167.45 550.36 L167.8 549.9 L168.15 549.28 L168.5 548.57 L168.85 547.82 L169.2 547.12 L169.55 546.52 L169.9 546 L170.25 545.51 L170.6 545.04 L170.95 544.59 L171.3 544.14 L171.65 543.7 L172 543.26 L172.35 542.8 L172.7 542.32 L173.05 541.82 L173.4 541.29 L173.75 540.72 L174.1 540.11 L174.45 539.44 L174.8 538.72 L175.15 537.91 L175.5 536.96 L175.85 535.87 L176.2 534.67 L176.55 533.36 L176.9 531.96 L177.25 530.48 L177.6 528.94 L177.95 527.33 L178.3 525.69 L178.65 524.02 L179 522.33 L179.35 520.64 L179.7 518.9 L180.05 517.04 L180.4 515.07 L180.75 513.02 L181.1 510.91 L181.45 508.76 L181.8 506.59 L182.15 504.43 L182.5 502.3 L182.85 500.2 L183.2 498.13 L183.55 496.05 L183.9 493.95 L184.25 491.81 L184.6 489.6 L184.95 487.31 L185.3 484.91 L185.65 482.31 L186 479.38 L186.35 476.28 L186.7 473.15 L187.05 470.16 L187.4 467.45 L187.75 465.13 L188.1 462.74 L188.45 460.32 L188.8 458.01 L189.15 455.95 L189.5 454.3 L189.85 453.2 L190.2 452.8 L190.55 453.02 L190.9 453.65 L191.25 454.62 L191.6 455.9 L191.95 457.41 L192.3 459.1 L192.65 460.93 L193 462.83 L193.35 464.75 L193.7 466.65 L194.05 468.89 L194.4 471.5 L194.75 474.37 L195.1 477.39 L195.45 480.43 L195.8 483.39 L196.15 486.22 L196.5 489.08 L196.85 491.95 L197.2 494.85 L197.55 497.75 L197.9 500.65 L198.25 503.55 L198.6 506.53 L198.95 509.55 L199.3 512.55 L199.65 515.48 L200 518.27 L200.35 520.86 L200.7 523.41 L201.05 525.97 L201.4 528.49 L201.75 530.92 L202.1 533.18 L202.45 535.23 L202.8 536.99 L203.15 538.43 L203.5 539.59 L203.85 540.66 L204.2 541.65 L204.55 542.56 L204.9 543.41 L205.25 544.19 L205.6 544.92 L205.95 545.58 L206.3 546.2 L206.65 546.78 L207 547.31 L207.35 547.82 L207.7 548.33 L208.05 548.85 L208.4 549.34 L208.75 549.78 L209.1 550.15 L209.45 550.42 L209.45 550.6 L167.45 550.6 Z" fill="#ababab"/>
<path d="M161.5 546.26 L161.85 545.16 L162.2 543.56 L162.55 541.66 L162.9 539.64 L163.25 537.63 L163.6 535.37 L163.95 532.85 L164.3 530.14 L164.65 527.31 L165 524.44 L165.35 521.59 L165.7 518.83 L166.05 516.07 L166.4 513.29 L166.75 510.46 L167.1 507.55 L167.45 504.53 L167.8 501.38 L168.15 498.02 L168.5 494.5 L168.85 490.88 L169.2 487.26 L169.55 483.69 L169.9 480.06 L170.25 476.34 L170.6 472.68 L170.95 469.22 L171.3 466.1 L171.65 462.96 L172 459.66 L172.35 456.67 L172.7 454.43 L173.05 453.42 L173.4 453.75 L173.75 454.96 L174.1 456.85 L174.45 459.25 L174.8 461.98 L175.15 464.86 L175.5 468 L175.85 472.31 L176.2 477.29 L176.55 482.25 L176.9 486.69 L177.25 490.98 L177.6 495.2 L177.95 499.36 L178.3 503.47 L178.65 507.59 L179 511.67 L179.35 515.63 L179.7 519.38 L180.05 522.95 L180.4 526.53 L180.75 530 L181.1 533.24 L181.45 536.12 L181.8 538.5 L182.15 540.49 L182.5 542.27 L182.85 543.86 L183.2 545.24 L183.55 546.44 L183.9 547.55 L184.25 548.6 L184.6 549.32" fill="none" stroke="#3c3c3c" stroke-width="1.45" stroke-dasharray="3.6,2.9"/>
<path d="M153.8 550.6 L154.15 550.6 L154.5 550.6 L154.85 550.6 L155.2 550.6 L155.55 550.6 L155.9 550.6 L156.25 550.6 L156.6 550.6 L156.95 550.6 L157.3 550.6 L157.65 550.6 L158 550.6 L158.35 550.6 L158.7 550.6 L159.05 550.6 L159.4 550.6 L159.75 550.6 L160.1 550.6 L160.45 550.6 L160.8 550.6 L161.15 550.6 L161.5 550.6 L161.85 550.6 L162.2 550.6 L162.55 550.6 L162.9 550.6 L163.25 550.59 L163.6 550.56 L163.95 550.51 L164.3 550.44 L164.65 550.35 L165 550.26 L165.35 550.16 L165.7 550.06 L166.05 549.96 L166.4 549.85 L166.75 549.73 L167.1 549.59 L167.45 549.45 L167.8 549.3 L168.15 549.14 L168.5 548.97 L168.85 548.78 L169.2 548.59 L169.55 548.39 L169.9 548.18 L170.25 547.96 L170.6 547.74 L170.95 547.5 L171.3 547.26 L171.65 547.01 L172 546.75 L172.35 546.48 L172.7 546.2 L173.05 545.91 L173.4 545.59 L173.75 545.26 L174.1 544.9 L174.45 544.53 L174.8 544.14 L175.15 543.72 L175.5 543.28 L175.85 542.82 L176.2 542.34 L176.55 541.83 L176.9 541.29 L177.25 540.73 L177.6 540.14 L177.95 539.53 L178.3 538.88 L178.65 538.2 L179 537.42 L179.35 536.53 L179.7 535.54 L180.05 534.47 L180.4 533.3 L180.75 532.06 L181.1 530.75 L181.45 529.37 L181.8 527.94 L182.15 526.46 L182.5 524.93 L182.85 523.37 L183.2 521.78 L183.55 520.17 L183.9 518.43 L184.25 516.52 L184.6 514.47 L184.95 512.32 L185.3 510.09 L185.65 507.81 L186 505.53 L186.35 503.26 L186.7 501.01 L187.05 498.7 L187.4 496.34 L187.75 493.94 L188.1 491.53 L188.45 489.14 L188.8 486.8 L189.15 484.52 L189.5 482.27 L189.85 479.99 L190.2 477.71 L190.55 475.45 L190.9 473.24 L191.25 471.13 L191.6 469.14 L191.95 467.3 L192.3 465.63 L192.65 463.95 L193 462.2 L193.35 460.46 L193.7 458.76 L194.05 457.17 L194.4 455.73 L194.75 454.49 L195.1 453.51 L195.45 452.83 L195.8 452.52 L196.15 452.61 L196.5 453.08 L196.85 453.89 L197.2 454.99 L197.55 456.32 L197.9 457.84 L198.25 459.48 L198.6 461.2 L198.95 462.95 L199.3 464.68 L199.65 466.33 L200 468.08 L200.35 469.99 L200.7 472.05 L201.05 474.22 L201.4 476.46 L201.75 478.73 L202.1 481.01 L202.45 483.26 L202.8 485.45 L203.15 487.67 L203.5 489.9 L203.85 492.15 L204.2 494.42 L204.55 496.71 L204.9 499.01 L205.25 501.31 L205.6 503.64 L205.95 506.04 L206.3 508.5 L206.65 510.97 L207 513.41 L207.35 515.79 L207.7 518.07 L208.05 520.21 L208.4 522.26 L208.75 524.34 L209.1 526.42 L209.45 528.47 L209.8 530.45 L210.15 532.33 L210.5 534.07 L210.85 535.65 L211.2 537.04 L211.55 538.19 L211.9 539.11 L212.25 539.97 L212.6 540.79 L212.95 541.57 L213.3 542.31 L213.65 543 L214 543.65 L214.35 544.26 L214.7 544.83 L215.05 545.36 L215.4 545.84 L215.75 546.28 L216.1 546.69 L216.45 547.04 L216.8 547.36 L217.15 547.64 L217.5 547.9 L217.85 548.15 L218.2 548.4 L218.55 548.64 L218.9 548.87 L219.25 549.09 L219.6 549.31 L219.95 549.51 L220.3 549.69 L220.65 549.87 L221 550.03 L221.35 550.17 L221.7 550.29 L222.05 550.4 L222.4 550.48 L222.75 550.54 L223.1 550.58 L223.45 550.6 L223.8 550.6 L224.15 550.6 L224.5 550.6 L224.85 550.6 L225.2 550.6 L225.55 550.6 L225.9 550.6 L226.25 550.6 L226.6 550.6 L226.95 550.6 L227.3 550.6 L227.65 550.6 L228 550.6 L228.35 550.6 L228.7 550.6 L229.05 550.6 L229.4 550.6 L229.75 550.6 L230.1 550.6 L230.45 550.6 L230.8 550.6 L231.15 550.6 L231.5 550.6 L231.85 550.6 L232.2 550.6 L232.55 550.6 L232.9 550.6 L233.25 550.6 L233.6 550.6 L233.95 550.6 L234.3 550.6 L234.65 550.6 L235 550.6 L235.35 550.6 L235.7 550.6 L236.05 550.6 L236.4 550.6 L236.75 550.6 L237.1 550.6 L237.45 550.6 L237.8 550.6 L238.15 550.6 L238.5 550.6 L238.85 550.6 L239.2 550.6 L239.55 550.6 L239.9 550.6 L240.25 550.6 L240.6 550.6 L240.95 550.6 L241.3 550.6 L241.65 550.6 L242 550.6 L242.35 550.6 L242.7 550.6 L243.05 550.6 L243.4 550.6 L243.75 550.6 L244.1 550.6 L244.45 550.6 L244.8 550.6 L245.15 550.6 L245.5 550.6 L245.85 550.6 L246.2 550.6 L246.55 550.6 L246.9 550.6 L247.25 550.6 L247.6 550.6 L247.95 550.6 L248.3 550.6 L248.65 550.6 L249 550.6 L249.35 550.6 L249.7 550.6 L250.05 550.6 L250.4 550.6 L250.75 550.6 L251.1 550.6 L251.45 550.6 L251.8 550.6 L252.15 550.6 L252.5 550.6 L252.85 550.6 L253.2 550.6 L253.55 550.6 L253.9 550.6 L254.25 550.6 L254.6 550.6 L254.95 550.6 L255.3 550.6 L255.65 550.6 L256 550.6 L256.35 550.6 L256.7 550.6 L257.05 550.6 L257.4 550.6 L257.75 550.6 L258.1 550.6" fill="none" stroke="#000" stroke-width="1.7" stroke-linejoin="round"/>
<line x1="153.3" y1="550.6" x2="258.8" y2="550.6" stroke="#000" stroke-width="1.6"/>
<line x1="150.3" y1="445" x2="153.3" y2="445" stroke="#777" stroke-width="0.8"/>
<text x="148.2" y="446.65" font-size="4.6" text-anchor="end" fill="#222">100</text>
<line x1="150.3" y1="466.12" x2="153.3" y2="466.12" stroke="#777" stroke-width="0.8"/>
<text x="148.2" y="467.77" font-size="4.6" text-anchor="end" fill="#222">80</text>
<line x1="150.3" y1="487.24" x2="153.3" y2="487.24" stroke="#777" stroke-width="0.8"/>
<text x="148.2" y="488.89" font-size="4.6" text-anchor="end" fill="#222">60</text>
<line x1="150.3" y1="508.36" x2="153.3" y2="508.36" stroke="#777" stroke-width="0.8"/>
<text x="148.2" y="510.01" font-size="4.6" text-anchor="end" fill="#222">40</text>
<line x1="150.3" y1="529.48" x2="153.3" y2="529.48" stroke="#777" stroke-width="0.8"/>
<text x="148.2" y="531.13" font-size="4.6" text-anchor="end" fill="#222">20</text>
<line x1="150.3" y1="550.6" x2="153.3" y2="550.6" stroke="#777" stroke-width="0.8"/>
<text x="148.2" y="552.25" font-size="4.6" text-anchor="end" fill="#222">0</text>
<line x1="153.3" y1="550.6" x2="153.3" y2="552.6" stroke="#777" stroke-width="0.8"/>
<text x="154.1" y="561.5" font-size="5.5" fill="#222" text-anchor="middle">10<tspan font-size="3.6" dy="-2.4">0</tspan></text>
<line x1="179.68" y1="550.6" x2="179.68" y2="552.6" stroke="#777" stroke-width="0.8"/>
<text x="180.48" y="561.5" font-size="5.5" fill="#222" text-anchor="middle">10<tspan font-size="3.6" dy="-2.4">1</tspan></text>
<line x1="206.05" y1="550.6" x2="206.05" y2="552.6" stroke="#777" stroke-width="0.8"/>
<text x="206.85" y="561.5" font-size="5.5" fill="#222" text-anchor="middle">10<tspan font-size="3.6" dy="-2.4">2</tspan></text>
<line x1="232.43" y1="550.6" x2="232.43" y2="552.6" stroke="#777" stroke-width="0.8"/>
<text x="233.23" y="561.5" font-size="5.5" fill="#222" text-anchor="middle">10<tspan font-size="3.6" dy="-2.4">3</tspan></text>
<rect x="153.3" y="445" width="105.5" height="105.6" fill="none" stroke="#7a7a7a" stroke-width="1"/>
<path d="M29 565.3 H259 M254.5 562.7 L259 565.3 L254.5 567.9" fill="none" stroke="#1a1a1a" stroke-width="1"/>
<text x="141.4" y="578" font-size="10.7" text-anchor="middle" fill="#111" stroke="#111" stroke-width="0.1">ULBP-2</text>
<text x="132.2" y="330.8" font-size="8.6" text-anchor="end" fill="#111" stroke="#111" stroke-width="0.1">WPI-Vpr WT</text>
<text x="132.2" y="341.2" font-size="8.6" text-anchor="end" fill="#111" stroke="#111" stroke-width="0.1">137.3</text>
<text x="132.2" y="351.6" font-size="8.6" text-anchor="end" fill="#111" stroke="#111" stroke-width="0.1">WPI</text>
<text x="132.2" y="362" font-size="8.6" text-anchor="end" fill="#111" stroke="#111" stroke-width="0.1">52.4</text>
<line x1="74.2" y1="327.9" x2="81.4" y2="327.9" stroke="#1a1a1a" stroke-width="1.35"/>
<line x1="106.3" y1="348.7" x2="114.4" y2="348.7" stroke="#6e6e6e" stroke-width="2"/>
<text x="254" y="330.8" font-size="8.6" text-anchor="end" fill="#111" stroke="#111" stroke-width="0.1">WPI-Vpr WT</text>
<text x="254" y="341.2" font-size="8.6" text-anchor="end" fill="#111" stroke="#111" stroke-width="0.1">123.5</text>
<text x="254" y="351.6" font-size="8.6" text-anchor="end" fill="#111" stroke="#111" stroke-width="0.1">WPI</text>
<text x="254" y="362" font-size="8.6" text-anchor="end" fill="#111" stroke="#111" stroke-width="0.1">39.0</text>
<line x1="196.2" y1="327.9" x2="203" y2="327.9" stroke="#1a1a1a" stroke-width="1.35"/>
<line x1="228.5" y1="348.7" x2="236.5" y2="348.7" stroke="#6e6e6e" stroke-width="2"/>
<text x="130.3" y="454.5" font-size="8.6" text-anchor="end" fill="#111" stroke="#111" stroke-width="0.1">APC</text>
<text x="130.3" y="464.9" font-size="8.6" text-anchor="end" fill="#111" stroke="#111" stroke-width="0.1">112.7</text>
<text x="130.3" y="475.3" font-size="8.6" text-anchor="end" fill="#111" stroke="#111" stroke-width="0.1">Mock</text>
<text x="130.3" y="485.7" font-size="8.6" text-anchor="end" fill="#111" stroke="#111" stroke-width="0.1">38.6</text>
<line x1="100.6" y1="451.6" x2="108.8" y2="451.6" stroke="#1a1a1a" stroke-width="1.35"/>
<line x1="100.6" y1="472.4" x2="108.8" y2="472.4" stroke="#6e6e6e" stroke-width="2"/>
<text x="254" y="454.5" font-size="8.6" text-anchor="end" fill="#111" stroke="#111" stroke-width="0.1">APC</text>
<text x="254" y="464.9" font-size="8.6" text-anchor="end" fill="#111" stroke="#111" stroke-width="0.1">43.9</text>
<text x="254" y="475.3" font-size="8.6" text-anchor="end" fill="#111" stroke="#111" stroke-width="0.1">Mock</text>
<text x="254" y="485.7" font-size="8.6" text-anchor="end" fill="#111" stroke="#111" stroke-width="0.1">22.7</text>
<line x1="225.5" y1="451.6" x2="233.5" y2="451.6" stroke="#1a1a1a" stroke-width="1.35"/>
<line x1="225.5" y1="472.4" x2="233.5" y2="472.4" stroke="#6e6e6e" stroke-width="2"/>
<text x="279" y="308" font-size="14" text-anchor="start" font-weight="bold" fill="#000">D</text>
<text x="450.9" y="335.5" font-size="10.5" text-anchor="middle" font-weight="bold" fill="#111">10 Gy</text>
<line x1="428.2" y1="341.4" x2="472.6" y2="341.4" stroke="#111" stroke-width="1.2"/>
<text x="368" y="362" font-size="10.5" text-anchor="end" font-weight="bold" fill="#111">KU55933</text>
<text x="367.5" y="374.6" font-size="10.5" text-anchor="end" font-weight="bold" fill="#111">DMSO</text>
<text x="388" y="360.8" font-size="10.5" text-anchor="middle" font-weight="bold" fill="#111">-</text>
<text x="411.3" y="362.4" font-size="10.5" text-anchor="middle" font-weight="bold" fill="#111">+</text>
<text x="436.3" y="360.8" font-size="10.5" text-anchor="middle" font-weight="bold" fill="#111">-</text>
<text x="462.4" y="362.4" font-size="10.5" text-anchor="middle" font-weight="bold" fill="#111">+</text>
<text x="388" y="375.6" font-size="10.5" text-anchor="middle" font-weight="bold" fill="#111">+</text>
<text x="411.3" y="374" font-size="10.5" text-anchor="middle" font-weight="bold" fill="#111">-</text>
<text x="436.3" y="375.6" font-size="10.5" text-anchor="middle" font-weight="bold" fill="#111">+</text>
<text x="462.4" y="374" font-size="10.5" text-anchor="middle" font-weight="bold" fill="#111">-</text>
<defs>
<filter id="bl1" x="-20%" y="-80%" width="140%" height="260%"><feGaussianBlur stdDeviation="0.9 0.6"/></filter>
<filter id="bl2" x="-20%" y="-80%" width="140%" height="260%"><feGaussianBlur stdDeviation="1.0 0.75"/></filter>
</defs>
<!-- blot 1 -->
<rect x="373.6" y="384.3" width="102.8" height="11.6" fill="#d0d0d0"/>
<g filter="url(#bl1)">
<rect x="375" y="385" width="23.5" height="10" fill="#b8b8b8"/>
<rect x="401" y="385" width="23.5" height="10" fill="#a0a0a0"/>
<rect x="426" y="385" width="23" height="10" fill="#d4d4d4"/>
<rect x="451.5" y="385" width="21" height="10" fill="#dcdcdc"/>
<rect x="399" y="385" width="1.8" height="10" fill="#fff"/>
<rect x="449.5" y="385" width="1.8" height="10" fill="#fff"/>
<rect x="376" y="388.3" width="22" height="2.4" rx="1.2" fill="#707070"/>
<rect x="376" y="391.6" width="22" height="1.8" rx="0.9" fill="#8a8a8a"/>
<rect x="402" y="388" width="22" height="2.8" rx="1.4" fill="#555"/>
<rect x="402" y="391.4" width="22" height="2" rx="1" fill="#707070"/>
<rect x="427.5" y="387.9" width="19" height="2.9" rx="1.4" fill="#080808"/>
<rect x="428" y="391.8" width="18" height="1.6" rx="0.8" fill="#959595"/>
<rect x="452.5" y="388.3" width="19" height="2.2" rx="1.1" fill="#4a4a4a"/>
<rect x="452.5" y="391.8" width="19" height="1.6" rx="0.8" fill="#a0a0a0"/>
</g>
<rect x="373.6" y="384.3" width="102.8" height="11.6" fill="none" stroke="#111" stroke-width="1.1"/>
<!-- blot 2 -->
<rect x="373.6" y="405.5" width="102.8" height="11.8" fill="#f4f4f4"/>
<g filter="url(#bl2)">
<rect x="377" y="409.4" width="20" height="4.6" rx="2.3" fill="#353535"/>
<rect x="401.8" y="409.7" width="22" height="4.3" rx="2.1" fill="#404040"/>
<rect x="426" y="408.8" width="21.5" height="5.8" rx="2.9" fill="#141414"/>
<rect x="451.2" y="409.2" width="21.5" height="5.2" rx="2.6" fill="#2e2e2e"/>
</g>
<rect x="373.6" y="405.5" width="102.8" height="11.8" fill="none" stroke="#111" stroke-width="1.1"/>
<!-- blot 3 -->
<rect x="373.6" y="424.9" width="102.8" height="11.8" fill="#fafafa"/>
<g filter="url(#bl2)">
<rect x="378" y="426.6" width="17" height="0.8" fill="#aaa"/>
<rect x="403" y="426.6" width="17" height="0.8" fill="#aaa"/>
<rect x="377.2" y="428.7" width="20.3" height="3.9" rx="1.9" fill="#0c0c0c"/>
<rect x="401.6" y="428.8" width="20.4" height="3.9" rx="1.9" fill="#0c0c0c"/>
<rect x="426.8" y="430.3" width="19.7" height="2.6" rx="1.3" fill="#181818"/>
<rect x="451.7" y="430.3" width="20.3" height="2.6" rx="1.3" fill="#181818"/>
</g>
<rect x="373.6" y="424.9" width="102.8" height="11.8" fill="none" stroke="#111" stroke-width="1.1"/>

<text x="369.4" y="393.8" font-size="8.95" text-anchor="end" fill="#111" stroke="#111" stroke-width="0.1">anti-Chk2-p (Thr68)</text>
<text x="369.4" y="413.5" font-size="8.95" text-anchor="end" fill="#111" stroke="#111" stroke-width="0.1">anti-H2AX-p (Ser139)</text>
<text x="369.4" y="432.8" font-size="8.95" text-anchor="end" fill="#111" stroke="#111" stroke-width="0.1">anti-actin</text>
<text x="482.7" y="394.6" font-size="10" text-anchor="start" fill="#111" stroke="#111" stroke-width="0.1">62 kD</text>
<text x="482.7" y="415.2" font-size="10" text-anchor="start" fill="#111" stroke="#111" stroke-width="0.1">15 kD</text>
<text x="482.7" y="434.9" font-size="10" text-anchor="start" fill="#111" stroke="#111" stroke-width="0.1">42 kD</text>
</g>
</svg></body></html>
